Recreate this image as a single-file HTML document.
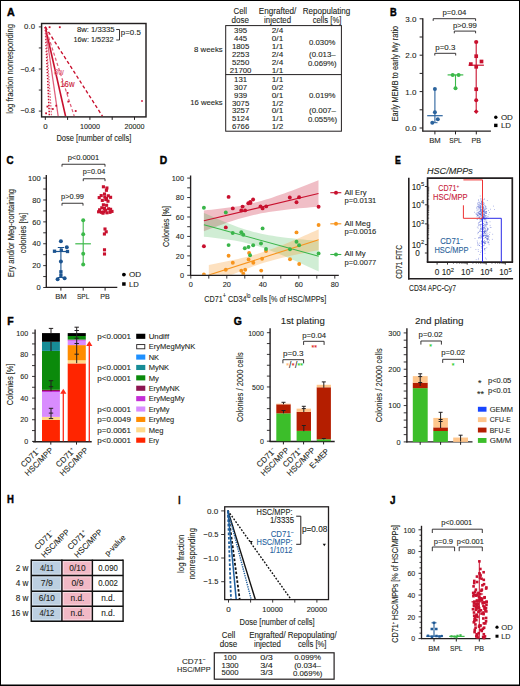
<!DOCTYPE html>
<html><head><meta charset="utf-8"><title>Figure</title>
<style>
html,body{margin:0;padding:0;background:#fff;}
body{width:520px;height:686px;overflow:hidden;}
svg{display:block;font-family:"Liberation Sans", sans-serif;}
</style></head><body>
<svg width="520" height="686" viewBox="0 0 520 686" fill="#231f20"><rect x="0.50" y="0.50" width="519.00" height="685.00" fill="none" stroke="#000" stroke-width="1"/>
<line x1="0.00" y1="685.20" x2="520.00" y2="685.20" stroke="#000" stroke-width="1.6"/>
<text x="6.90" y="15.70" font-size="11.3" font-weight="bold" fill="#000" stroke="#000" stroke-width="0.45" textLength="7.70" lengthAdjust="spacingAndGlyphs">A</text>
<rect x="41.60" y="23.50" width="104.40" height="93.40" fill="none" stroke="#231f20" stroke-width="1.45"/>
<line x1="38.80" y1="26.90" x2="41.50" y2="26.90" stroke="#231f20" stroke-width="0.9"/>
<line x1="38.80" y1="47.95" x2="41.50" y2="47.95" stroke="#231f20" stroke-width="0.9"/>
<line x1="38.80" y1="69.00" x2="41.50" y2="69.00" stroke="#231f20" stroke-width="0.9"/>
<line x1="38.80" y1="90.05" x2="41.50" y2="90.05" stroke="#231f20" stroke-width="0.9"/>
<line x1="38.80" y1="111.10" x2="41.50" y2="111.10" stroke="#231f20" stroke-width="0.9"/>
<text x="35.00" y="29.20" font-size="7.7" text-anchor="end" textLength="10.90" lengthAdjust="spacingAndGlyphs" stroke="#231f20" stroke-width="0.1">0.0</text>
<text x="35.00" y="71.80" font-size="7.7" text-anchor="end" textLength="14.60" lengthAdjust="spacingAndGlyphs" stroke="#231f20" stroke-width="0.1">−0.4</text>
<text x="35.00" y="113.40" font-size="7.7" text-anchor="end" textLength="14.60" lengthAdjust="spacingAndGlyphs" stroke="#231f20" stroke-width="0.1">−0.8</text>
<line x1="45.30" y1="116.90" x2="45.30" y2="119.90" stroke="#231f20" stroke-width="1.0"/>
<line x1="67.60" y1="116.90" x2="67.60" y2="119.90" stroke="#231f20" stroke-width="1.0"/>
<line x1="89.90" y1="116.90" x2="89.90" y2="119.90" stroke="#231f20" stroke-width="1.0"/>
<line x1="112.20" y1="116.90" x2="112.20" y2="119.90" stroke="#231f20" stroke-width="1.0"/>
<line x1="134.50" y1="116.90" x2="134.50" y2="119.90" stroke="#231f20" stroke-width="1.0"/>
<text x="45.50" y="128.70" font-size="7.9" text-anchor="middle" stroke="#231f20" stroke-width="0.1">0</text>
<text x="89.90" y="128.70" font-size="7.9" text-anchor="middle" textLength="20.00" lengthAdjust="spacingAndGlyphs" stroke="#231f20" stroke-width="0.1">10000</text>
<text x="134.40" y="128.70" font-size="7.9" text-anchor="middle" textLength="20.00" lengthAdjust="spacingAndGlyphs" stroke="#231f20" stroke-width="0.1">20000</text>
<text x="56.40" y="140.50" font-size="9" textLength="74.90" lengthAdjust="spacingAndGlyphs" stroke="#231f20" stroke-width="0.1">Dose [number of cells]</text>
<text x="12.90" y="113.80" font-size="9" textLength="89.80" lengthAdjust="spacingAndGlyphs" transform="rotate(-90 12.90 113.80)" stroke="#231f20" stroke-width="0.1">log fraction nonresponding</text>
<text x="114.60" y="32.00" font-size="7.2" text-anchor="end" textLength="37.70" lengthAdjust="spacingAndGlyphs" stroke="#231f20" stroke-width="0.1">8w: 1/3335</text>
<text x="113.50" y="41.50" font-size="7.2" text-anchor="end" textLength="40.10" lengthAdjust="spacingAndGlyphs" stroke="#231f20" stroke-width="0.1">16w: 1/5232</text>
<polyline points="116.20,29.50 119.50,29.50 119.50,40.00 116.20,40.00" fill="none" stroke="#231f20" stroke-width="0.9"/>
<text x="120.80" y="34.90" font-size="7.2" textLength="20.00" lengthAdjust="spacingAndGlyphs" stroke="#231f20" stroke-width="0.1">p=0.5</text>
<clipPath id="ca"><rect x="42" y="24" width="104" height="92.2"/></clipPath><g clip-path="url(#ca)">
<line x1="45.30" y1="26.90" x2="49.40" y2="116.40" stroke="#c8102e" stroke-width="1.6" stroke-dasharray="1.4 1.6"/>
<line x1="45.30" y1="26.90" x2="51.60" y2="116.40" stroke="#e0607c" stroke-width="1.2" stroke-dasharray="1.6 1.3"/>
<line x1="45.30" y1="26.90" x2="58.20" y2="116.40" stroke="#e0607c" stroke-width="1.25"/>
<line x1="45.30" y1="26.90" x2="65.60" y2="116.40" stroke="#c8102e" stroke-width="1.65"/>
<line x1="45.30" y1="26.90" x2="74.30" y2="116.40" stroke="#e0607c" stroke-width="1.25" stroke-dasharray="3.2 2.2"/>
<line x1="45.30" y1="26.90" x2="102.60" y2="116.40" stroke="#c8102e" stroke-width="1.35" stroke-dasharray="3.4 2.4"/>
<rect x="48.70" y="26.30" width="1.8" height="1.8" fill="#c8102e"/>
<rect x="58.90" y="26.30" width="1.8" height="1.8" fill="#c8102e"/>
<rect x="45.20" y="112.40" width="1.8" height="1.8" fill="#c8102e"/>
<rect x="46.50" y="105.70" width="1.8" height="1.8" fill="#c8102e"/>
<rect x="51.90" y="108.10" width="1.8" height="1.8" fill="#c8102e"/>
<rect x="55.30" y="104.80" width="1.8" height="1.8" fill="#c8102e"/>
<rect x="67.40" y="100.70" width="1.8" height="1.8" fill="#c8102e"/>
<rect x="66.70" y="92.00" width="1.8" height="1.8" fill="#c8102e"/>
<rect x="74.80" y="110.10" width="1.8" height="1.8" fill="#c8102e"/>
<rect x="141.00" y="100.00" width="2.0" height="2.0" fill="#e0607c"/>
</g>
<text x="53.90" y="75.00" font-size="9" fill="#e0607c" textLength="9.80" lengthAdjust="spacingAndGlyphs" stroke="#e0607c" stroke-width="0.1">8w</text>
<text x="60.30" y="87.40" font-size="9" fill="#c8102e" textLength="14.20" lengthAdjust="spacingAndGlyphs" stroke="#c8102e" stroke-width="0.1">16w</text>
<rect x="225.70" y="25.60" width="115.70" height="105.60" fill="none" stroke="#231f20" stroke-width="1"/>
<line x1="225.70" y1="74.60" x2="341.40" y2="74.60" stroke="#231f20" stroke-width="1"/>
<text x="240.30" y="13.60" font-size="8.3" text-anchor="middle" textLength="13.50" lengthAdjust="spacingAndGlyphs" stroke="#231f20" stroke-width="0.1">Cell</text>
<text x="240.30" y="22.60" font-size="8.3" text-anchor="middle" textLength="17.50" lengthAdjust="spacingAndGlyphs" stroke="#231f20" stroke-width="0.1">dose</text>
<text x="277.60" y="13.60" font-size="8.3" text-anchor="middle" textLength="37.50" lengthAdjust="spacingAndGlyphs" stroke="#231f20" stroke-width="0.1">Engrafted/</text>
<text x="277.60" y="22.60" font-size="8.3" text-anchor="middle" textLength="27.00" lengthAdjust="spacingAndGlyphs" stroke="#231f20" stroke-width="0.1">injected</text>
<text x="326.50" y="13.60" font-size="8.3" text-anchor="middle" textLength="47.70" lengthAdjust="spacingAndGlyphs" stroke="#231f20" stroke-width="0.1">Repopulating</text>
<text x="327.10" y="22.60" font-size="8.3" text-anchor="middle" textLength="28.80" lengthAdjust="spacingAndGlyphs" stroke="#231f20" stroke-width="0.1">cells [%]</text>
<text x="240.60" y="33.10" font-size="8.0" text-anchor="middle" textLength="13.05" lengthAdjust="spacingAndGlyphs" stroke="#231f20" stroke-width="0.1">395</text>
<text x="277.50" y="33.10" font-size="8.0" text-anchor="middle" textLength="11.40" lengthAdjust="spacingAndGlyphs" stroke="#231f20" stroke-width="0.1">2/4</text>
<text x="240.60" y="40.98" font-size="8.0" text-anchor="middle" textLength="13.05" lengthAdjust="spacingAndGlyphs" stroke="#231f20" stroke-width="0.1">445</text>
<text x="277.50" y="40.98" font-size="8.0" text-anchor="middle" textLength="11.40" lengthAdjust="spacingAndGlyphs" stroke="#231f20" stroke-width="0.1">0/1</text>
<text x="240.60" y="48.86" font-size="8.0" text-anchor="middle" textLength="17.40" lengthAdjust="spacingAndGlyphs" stroke="#231f20" stroke-width="0.1">1805</text>
<text x="277.50" y="48.86" font-size="8.0" text-anchor="middle" textLength="11.40" lengthAdjust="spacingAndGlyphs" stroke="#231f20" stroke-width="0.1">1/1</text>
<text x="240.60" y="56.74" font-size="8.0" text-anchor="middle" textLength="17.40" lengthAdjust="spacingAndGlyphs" stroke="#231f20" stroke-width="0.1">2253</text>
<text x="277.50" y="56.74" font-size="8.0" text-anchor="middle" textLength="11.40" lengthAdjust="spacingAndGlyphs" stroke="#231f20" stroke-width="0.1">2/4</text>
<text x="240.60" y="64.62" font-size="8.0" text-anchor="middle" textLength="17.40" lengthAdjust="spacingAndGlyphs" stroke="#231f20" stroke-width="0.1">5250</text>
<text x="277.50" y="64.62" font-size="8.0" text-anchor="middle" textLength="11.40" lengthAdjust="spacingAndGlyphs" stroke="#231f20" stroke-width="0.1">2/4</text>
<text x="240.60" y="72.50" font-size="8.0" text-anchor="middle" textLength="21.75" lengthAdjust="spacingAndGlyphs" stroke="#231f20" stroke-width="0.1">21700</text>
<text x="277.50" y="72.50" font-size="8.0" text-anchor="middle" textLength="11.40" lengthAdjust="spacingAndGlyphs" stroke="#231f20" stroke-width="0.1">1/1</text>
<text x="240.60" y="81.80" font-size="8.0" text-anchor="middle" textLength="13.05" lengthAdjust="spacingAndGlyphs" stroke="#231f20" stroke-width="0.1">131</text>
<text x="277.50" y="81.80" font-size="8.0" text-anchor="middle" textLength="11.40" lengthAdjust="spacingAndGlyphs" stroke="#231f20" stroke-width="0.1">1/1</text>
<text x="240.60" y="89.70" font-size="8.0" text-anchor="middle" textLength="13.05" lengthAdjust="spacingAndGlyphs" stroke="#231f20" stroke-width="0.1">307</text>
<text x="277.50" y="89.70" font-size="8.0" text-anchor="middle" textLength="11.40" lengthAdjust="spacingAndGlyphs" stroke="#231f20" stroke-width="0.1">0/2</text>
<text x="240.60" y="97.60" font-size="8.0" text-anchor="middle" textLength="13.05" lengthAdjust="spacingAndGlyphs" stroke="#231f20" stroke-width="0.1">939</text>
<text x="277.50" y="97.60" font-size="8.0" text-anchor="middle" textLength="11.40" lengthAdjust="spacingAndGlyphs" stroke="#231f20" stroke-width="0.1">0/1</text>
<text x="240.60" y="105.50" font-size="8.0" text-anchor="middle" textLength="17.40" lengthAdjust="spacingAndGlyphs" stroke="#231f20" stroke-width="0.1">3075</text>
<text x="277.50" y="105.50" font-size="8.0" text-anchor="middle" textLength="11.40" lengthAdjust="spacingAndGlyphs" stroke="#231f20" stroke-width="0.1">1/2</text>
<text x="240.60" y="113.40" font-size="8.0" text-anchor="middle" textLength="17.40" lengthAdjust="spacingAndGlyphs" stroke="#231f20" stroke-width="0.1">3257</text>
<text x="277.50" y="113.40" font-size="8.0" text-anchor="middle" textLength="11.40" lengthAdjust="spacingAndGlyphs" stroke="#231f20" stroke-width="0.1">0/1</text>
<text x="240.60" y="121.30" font-size="8.0" text-anchor="middle" textLength="17.40" lengthAdjust="spacingAndGlyphs" stroke="#231f20" stroke-width="0.1">5124</text>
<text x="277.50" y="121.30" font-size="8.0" text-anchor="middle" textLength="11.40" lengthAdjust="spacingAndGlyphs" stroke="#231f20" stroke-width="0.1">1/1</text>
<text x="240.60" y="129.20" font-size="8.0" text-anchor="middle" textLength="17.40" lengthAdjust="spacingAndGlyphs" stroke="#231f20" stroke-width="0.1">6766</text>
<text x="277.50" y="129.20" font-size="8.0" text-anchor="middle" textLength="11.40" lengthAdjust="spacingAndGlyphs" stroke="#231f20" stroke-width="0.1">1/2</text>
<text x="322.20" y="44.60" font-size="8.0" text-anchor="middle" textLength="26.30" lengthAdjust="spacingAndGlyphs" stroke="#231f20" stroke-width="0.1">0.030%</text>
<text x="322.40" y="57.30" font-size="8.0" text-anchor="middle" textLength="26.60" lengthAdjust="spacingAndGlyphs" stroke="#231f20" stroke-width="0.1">(0.013–</text>
<text x="322.30" y="66.20" font-size="8.0" text-anchor="middle" textLength="28.80" lengthAdjust="spacingAndGlyphs" stroke="#231f20" stroke-width="0.1">0.069%)</text>
<text x="322.30" y="97.70" font-size="8.0" text-anchor="middle" textLength="26.60" lengthAdjust="spacingAndGlyphs" stroke="#231f20" stroke-width="0.1">0.019%</text>
<text x="322.50" y="112.50" font-size="8.0" text-anchor="middle" textLength="26.90" lengthAdjust="spacingAndGlyphs" stroke="#231f20" stroke-width="0.1">(0.007–</text>
<text x="322.50" y="121.70" font-size="8.0" text-anchor="middle" textLength="29.20" lengthAdjust="spacingAndGlyphs" stroke="#231f20" stroke-width="0.1">0.055%)</text>
<text x="222.70" y="52.00" font-size="8.0" text-anchor="end" textLength="28.60" lengthAdjust="spacingAndGlyphs" stroke="#231f20" stroke-width="0.1">8 weeks</text>
<text x="222.70" y="105.10" font-size="8.0" text-anchor="end" textLength="32.50" lengthAdjust="spacingAndGlyphs" stroke="#231f20" stroke-width="0.1">16 weeks</text>
<text x="390.00" y="15.70" font-size="11.3" font-weight="bold" fill="#000" stroke="#000" stroke-width="0.45" textLength="6.70" lengthAdjust="spacingAndGlyphs">B</text>
<line x1="422.80" y1="18.30" x2="422.80" y2="131.60" stroke="#231f20" stroke-width="1.35"/>
<line x1="422.30" y1="131.10" x2="490.90" y2="131.10" stroke="#231f20" stroke-width="1.35"/>
<line x1="419.60" y1="128.00" x2="422.80" y2="128.00" stroke="#231f20" stroke-width="1"/>
<line x1="419.60" y1="109.80" x2="422.80" y2="109.80" stroke="#231f20" stroke-width="1"/>
<line x1="419.60" y1="91.60" x2="422.80" y2="91.60" stroke="#231f20" stroke-width="1"/>
<line x1="419.60" y1="73.40" x2="422.80" y2="73.40" stroke="#231f20" stroke-width="1"/>
<line x1="419.60" y1="55.20" x2="422.80" y2="55.20" stroke="#231f20" stroke-width="1"/>
<line x1="419.60" y1="37.00" x2="422.80" y2="37.00" stroke="#231f20" stroke-width="1"/>
<line x1="419.60" y1="18.80" x2="422.80" y2="18.80" stroke="#231f20" stroke-width="1"/>
<text x="416.40" y="21.70" font-size="8" text-anchor="end" textLength="11.20" lengthAdjust="spacingAndGlyphs" stroke="#231f20" stroke-width="0.1">3.0</text>
<text x="416.40" y="58.10" font-size="8" text-anchor="end" textLength="11.20" lengthAdjust="spacingAndGlyphs" stroke="#231f20" stroke-width="0.1">2.0</text>
<text x="416.40" y="94.50" font-size="8" text-anchor="end" textLength="11.20" lengthAdjust="spacingAndGlyphs" stroke="#231f20" stroke-width="0.1">1.0</text>
<text x="416.40" y="130.90" font-size="8" text-anchor="end" textLength="11.20" lengthAdjust="spacingAndGlyphs" stroke="#231f20" stroke-width="0.1">0.0</text>
<line x1="434.90" y1="131.10" x2="434.90" y2="134.40" stroke="#231f20" stroke-width="1"/>
<text x="434.90" y="143.40" font-size="8" text-anchor="middle" textLength="11.50" lengthAdjust="spacingAndGlyphs" stroke="#231f20" stroke-width="0.1">BM</text>
<line x1="455.50" y1="131.10" x2="455.50" y2="134.40" stroke="#231f20" stroke-width="1"/>
<text x="455.50" y="143.40" font-size="8" text-anchor="middle" textLength="12.50" lengthAdjust="spacingAndGlyphs" stroke="#231f20" stroke-width="0.1">SPL</text>
<line x1="476.30" y1="131.10" x2="476.30" y2="134.40" stroke="#231f20" stroke-width="1"/>
<text x="476.30" y="143.40" font-size="8" text-anchor="middle" textLength="9.50" lengthAdjust="spacingAndGlyphs" stroke="#231f20" stroke-width="0.1">PB</text>
<text x="397.60" y="121.30" font-size="9" textLength="95.50" lengthAdjust="spacingAndGlyphs" transform="rotate(-90 397.60 121.30)" stroke="#231f20" stroke-width="0.1">Early MEMB to early My ratio</text>
<polyline points="433.20,20.90 433.20,18.70 475.60,18.70 475.60,20.90" fill="none" stroke="#231f20" stroke-width="0.9"/>
<text x="454.40" y="14.70" font-size="8.1" text-anchor="middle" textLength="24.00" lengthAdjust="spacingAndGlyphs" stroke="#231f20" stroke-width="0.1">p=0.04</text>
<polyline points="454.30,33.30 454.30,31.10 475.60,31.10 475.60,33.30" fill="none" stroke="#231f20" stroke-width="0.9"/>
<text x="464.90" y="27.50" font-size="8.1" text-anchor="middle" textLength="24.00" lengthAdjust="spacingAndGlyphs" stroke="#231f20" stroke-width="0.1">p>0.99</text>
<polyline points="434.80,55.50 434.80,53.30 455.70,53.30 455.70,55.50" fill="none" stroke="#231f20" stroke-width="0.9"/>
<text x="445.30" y="50.00" font-size="8.1" text-anchor="middle" textLength="20.00" lengthAdjust="spacingAndGlyphs" stroke="#231f20" stroke-width="0.1">p=0.3</text>
<line x1="434.90" y1="89.00" x2="434.90" y2="122.70" stroke="#2b639d" stroke-width="1.1"/>
<line x1="427.20" y1="115.70" x2="442.70" y2="115.70" stroke="#2b639d" stroke-width="1.2"/>
<line x1="432.30" y1="122.70" x2="437.50" y2="122.70" stroke="#2b639d" stroke-width="1"/>
<circle cx="434.90" cy="89.00" r="2.0" fill="#2b639d"/>
<circle cx="434.90" cy="112.30" r="2.0" fill="#2b639d"/>
<circle cx="437.80" cy="119.30" r="2.0" fill="#2b639d"/>
<circle cx="432.30" cy="122.70" r="2.0" fill="#2b639d"/>
<line x1="455.50" y1="74.90" x2="455.50" y2="88.30" stroke="#3cb94a" stroke-width="1.1"/>
<line x1="447.60" y1="74.90" x2="463.30" y2="74.90" stroke="#3cb94a" stroke-width="1.2"/>
<circle cx="452.70" cy="74.90" r="2.0" fill="#3cb94a"/>
<circle cx="458.60" cy="74.90" r="2.0" fill="#3cb94a"/>
<circle cx="455.50" cy="88.30" r="2.0" fill="#3cb94a"/>
<line x1="476.20" y1="42.00" x2="476.20" y2="111.60" stroke="#c8102e" stroke-width="1.1"/>
<line x1="468.50" y1="65.20" x2="483.90" y2="65.20" stroke="#c8102e" stroke-width="1.2"/>
<circle cx="476.20" cy="42.00" r="2.1" fill="#c8102e"/>
<rect x="474.35" y="54.35" width="3.7" height="3.7" fill="#c8102e"/>
<rect x="468.95" y="62.25" width="3.7" height="3.7" fill="#c8102e"/>
<rect x="479.65" y="59.65" width="3.7" height="3.7" fill="#c8102e"/>
<rect x="474.35" y="64.95" width="3.7" height="3.7" fill="#c8102e"/>
<rect x="474.35" y="87.35" width="3.7" height="3.7" fill="#c8102e"/>
<circle cx="476.20" cy="100.20" r="2.0" fill="#c8102e"/>
<polygon points="476.20,109.20 478.60,111.60 476.20,114.00 473.80,111.60" fill="#c8102e"/>
<circle cx="495.80" cy="117.30" r="1.7" fill="#000"/>
<rect x="494.10" y="123.70" width="3.4" height="3.4" fill="#000"/>
<text x="500.90" y="119.60" font-size="8" textLength="12.00" lengthAdjust="spacingAndGlyphs" stroke="#231f20" stroke-width="0.1">OD</text>
<text x="500.90" y="128.00" font-size="8" textLength="10.00" lengthAdjust="spacingAndGlyphs" stroke="#231f20" stroke-width="0.1">LD</text>
<text x="6.45" y="163.70" font-size="11.3" font-weight="bold" fill="#000" stroke="#000" stroke-width="0.45" textLength="7.10" lengthAdjust="spacingAndGlyphs">C</text>
<line x1="46.30" y1="175.00" x2="46.30" y2="287.90" stroke="#231f20" stroke-width="1.35"/>
<line x1="45.80" y1="287.40" x2="117.30" y2="287.40" stroke="#231f20" stroke-width="1.35"/>
<line x1="43.20" y1="287.50" x2="46.30" y2="287.50" stroke="#231f20" stroke-width="0.9"/>
<line x1="43.20" y1="276.56" x2="46.30" y2="276.56" stroke="#231f20" stroke-width="0.9"/>
<line x1="43.20" y1="265.62" x2="46.30" y2="265.62" stroke="#231f20" stroke-width="0.9"/>
<line x1="43.20" y1="254.68" x2="46.30" y2="254.68" stroke="#231f20" stroke-width="0.9"/>
<line x1="43.20" y1="243.74" x2="46.30" y2="243.74" stroke="#231f20" stroke-width="0.9"/>
<line x1="43.20" y1="232.80" x2="46.30" y2="232.80" stroke="#231f20" stroke-width="0.9"/>
<line x1="43.20" y1="221.86" x2="46.30" y2="221.86" stroke="#231f20" stroke-width="0.9"/>
<line x1="43.20" y1="210.92" x2="46.30" y2="210.92" stroke="#231f20" stroke-width="0.9"/>
<line x1="43.20" y1="199.98" x2="46.30" y2="199.98" stroke="#231f20" stroke-width="0.9"/>
<line x1="43.20" y1="189.04" x2="46.30" y2="189.04" stroke="#231f20" stroke-width="0.9"/>
<line x1="43.20" y1="178.10" x2="46.30" y2="178.10" stroke="#231f20" stroke-width="0.9"/>
<text x="40.70" y="180.80" font-size="8.1" text-anchor="end" textLength="12.60" lengthAdjust="spacingAndGlyphs" stroke="#231f20" stroke-width="0.1">100</text>
<text x="40.70" y="202.68" font-size="8.1" text-anchor="end" textLength="8.40" lengthAdjust="spacingAndGlyphs" stroke="#231f20" stroke-width="0.1">80</text>
<text x="40.70" y="224.56" font-size="8.1" text-anchor="end" textLength="8.40" lengthAdjust="spacingAndGlyphs" stroke="#231f20" stroke-width="0.1">60</text>
<text x="40.70" y="246.44" font-size="8.1" text-anchor="end" textLength="8.40" lengthAdjust="spacingAndGlyphs" stroke="#231f20" stroke-width="0.1">40</text>
<text x="40.70" y="268.32" font-size="8.1" text-anchor="end" textLength="8.40" lengthAdjust="spacingAndGlyphs" stroke="#231f20" stroke-width="0.1">20</text>
<text x="40.70" y="290.20" font-size="8.1" text-anchor="end" textLength="4.20" lengthAdjust="spacingAndGlyphs" stroke="#231f20" stroke-width="0.1">0</text>
<line x1="60.90" y1="287.40" x2="60.90" y2="290.60" stroke="#231f20" stroke-width="1"/>
<text x="60.90" y="298.60" font-size="8" text-anchor="middle" textLength="11.50" lengthAdjust="spacingAndGlyphs" stroke="#231f20" stroke-width="0.1">BM</text>
<line x1="83.20" y1="287.40" x2="83.20" y2="290.60" stroke="#231f20" stroke-width="1"/>
<text x="83.20" y="298.60" font-size="8" text-anchor="middle" textLength="12.50" lengthAdjust="spacingAndGlyphs" stroke="#231f20" stroke-width="0.1">SPL</text>
<line x1="105.10" y1="287.40" x2="105.10" y2="290.60" stroke="#231f20" stroke-width="1"/>
<text x="105.10" y="298.60" font-size="8" text-anchor="middle" textLength="9.50" lengthAdjust="spacingAndGlyphs" stroke="#231f20" stroke-width="0.1">PB</text>
<text x="14.30" y="277.00" font-size="9" textLength="88.00" lengthAdjust="spacingAndGlyphs" transform="rotate(-90 14.30 277.00)" stroke="#231f20" stroke-width="0.1">Ery and/or Meg-containing</text>
<text x="26.00" y="253.30" font-size="9" textLength="40.70" lengthAdjust="spacingAndGlyphs" transform="rotate(-90 26.00 253.30)" stroke="#231f20" stroke-width="0.1">colonies [%]</text>
<polyline points="62.00,166.65 62.00,164.25 105.00,164.25 105.00,166.65" fill="none" stroke="#231f20" stroke-width="0.9"/>
<text x="83.40" y="159.80" font-size="8.1" text-anchor="middle" textLength="31.50" lengthAdjust="spacingAndGlyphs" stroke="#231f20" stroke-width="0.1">p&lt;0.0001</text>
<polyline points="83.25,181.15 83.25,178.75 105.00,178.75 105.00,181.15" fill="none" stroke="#231f20" stroke-width="0.9"/>
<text x="94.00" y="173.75" font-size="7.8" text-anchor="middle" textLength="22.50" lengthAdjust="spacingAndGlyphs" stroke="#231f20" stroke-width="0.1">p=0.04</text>
<polyline points="62.00,205.65 62.00,203.25 83.00,203.25 83.00,205.65" fill="none" stroke="#231f20" stroke-width="0.9"/>
<text x="72.50" y="199.25" font-size="7.8" text-anchor="middle" textLength="23.00" lengthAdjust="spacingAndGlyphs" stroke="#231f20" stroke-width="0.1">p&gt;0.99</text>
<line x1="60.90" y1="247.50" x2="60.90" y2="277.50" stroke="#1c5490" stroke-width="1.1"/>
<line x1="53.00" y1="251.50" x2="68.50" y2="251.50" stroke="#1c5490" stroke-width="1.2"/>
<line x1="57.80" y1="247.50" x2="64.00" y2="247.50" stroke="#1c5490" stroke-width="1"/>
<line x1="57.80" y1="277.50" x2="64.00" y2="277.50" stroke="#1c5490" stroke-width="1"/>
<circle cx="60.90" cy="241.30" r="2.0" fill="#1c5490"/>
<circle cx="66.80" cy="247.20" r="2.0" fill="#1c5490"/>
<circle cx="60.90" cy="261.50" r="2.0" fill="#1c5490"/>
<circle cx="57.60" cy="279.30" r="2.0" fill="#1c5490"/>
<circle cx="64.60" cy="278.30" r="2.0" fill="#1c5490"/>
<rect x="52.85" y="249.55" width="3.3" height="3.3" fill="#1c5490"/>
<rect x="65.85" y="249.85" width="3.3" height="3.3" fill="#1c5490"/>
<rect x="59.25" y="270.15" width="3.3" height="3.3" fill="#1c5490"/>
<rect x="59.25" y="273.65" width="3.3" height="3.3" fill="#1c5490"/>
<rect x="59.65" y="248.55" width="3.3" height="3.3" fill="#1c5490"/>
<circle cx="123.90" cy="274.60" r="1.9" fill="#000"/>
<rect x="122.15" y="282.25" width="3.5" height="3.5" fill="#000"/>
<text x="129.00" y="277.20" font-size="8" textLength="12.20" lengthAdjust="spacingAndGlyphs" stroke="#231f20" stroke-width="0.1">OD</text>
<text x="129.00" y="286.50" font-size="8" textLength="9.80" lengthAdjust="spacingAndGlyphs" stroke="#231f20" stroke-width="0.1">LD</text>
<line x1="83.20" y1="220.20" x2="83.20" y2="264.40" stroke="#3cb94a" stroke-width="1.1"/>
<line x1="75.30" y1="243.80" x2="90.90" y2="243.80" stroke="#3cb94a" stroke-width="1.2"/>
<circle cx="83.20" cy="220.20" r="2.0" fill="#3cb94a"/>
<circle cx="83.20" cy="234.20" r="2.0" fill="#3cb94a"/>
<circle cx="83.20" cy="253.70" r="2.0" fill="#3cb94a"/>
<circle cx="83.20" cy="264.40" r="2.0" fill="#3cb94a"/>
<rect x="101.85" y="185.25" width="3.1" height="3.1" fill="#c8102e"/>
<rect x="105.35" y="186.45" width="3.1" height="3.1" fill="#c8102e"/>
<rect x="104.85" y="188.75" width="3.1" height="3.1" fill="#c8102e"/>
<rect x="102.95" y="192.45" width="3.1" height="3.1" fill="#c8102e"/>
<rect x="99.65" y="194.05" width="3.1" height="3.1" fill="#c8102e"/>
<rect x="97.65" y="196.05" width="3.1" height="3.1" fill="#c8102e"/>
<rect x="103.25" y="195.45" width="3.1" height="3.1" fill="#c8102e"/>
<rect x="106.75" y="194.25" width="3.1" height="3.1" fill="#c8102e"/>
<rect x="109.05" y="195.75" width="3.1" height="3.1" fill="#c8102e"/>
<rect x="104.25" y="198.05" width="3.1" height="3.1" fill="#c8102e"/>
<rect x="100.75" y="198.85" width="3.1" height="3.1" fill="#c8102e"/>
<rect x="106.45" y="199.65" width="3.1" height="3.1" fill="#c8102e"/>
<rect x="101.85" y="203.25" width="3.1" height="3.1" fill="#c8102e"/>
<rect x="105.05" y="203.75" width="3.1" height="3.1" fill="#c8102e"/>
<rect x="100.25" y="206.25" width="3.1" height="3.1" fill="#c8102e"/>
<rect x="102.95" y="206.85" width="3.1" height="3.1" fill="#c8102e"/>
<rect x="107.05" y="207.25" width="3.1" height="3.1" fill="#c8102e"/>
<rect x="97.05" y="210.25" width="3.1" height="3.1" fill="#c8102e"/>
<rect x="99.95" y="210.75" width="3.1" height="3.1" fill="#c8102e"/>
<rect x="102.45" y="210.25" width="3.1" height="3.1" fill="#c8102e"/>
<rect x="105.45" y="211.25" width="3.1" height="3.1" fill="#c8102e"/>
<rect x="108.45" y="210.75" width="3.1" height="3.1" fill="#c8102e"/>
<rect x="110.45" y="209.85" width="3.1" height="3.1" fill="#c8102e"/>
<rect x="103.95" y="208.75" width="3.1" height="3.1" fill="#c8102e"/>
<rect x="98.05" y="208.25" width="3.1" height="3.1" fill="#c8102e"/>
<rect x="109.05" y="207.75" width="3.1" height="3.1" fill="#c8102e"/>
<rect x="101.45" y="211.65" width="3.1" height="3.1" fill="#c8102e"/>
<rect x="104.95" y="196.95" width="3.1" height="3.1" fill="#c8102e"/>
<rect x="103.45" y="227.45" width="3.1" height="3.1" fill="#c8102e"/>
<rect x="104.65" y="230.25" width="3.1" height="3.1" fill="#c8102e"/>
<rect x="102.85" y="232.45" width="3.1" height="3.1" fill="#c8102e"/>
<rect x="102.95" y="248.25" width="3.1" height="3.1" fill="#c8102e"/>
<rect x="102.95" y="252.45" width="3.1" height="3.1" fill="#c8102e"/>
<text x="159.70" y="164.20" font-size="11.3" font-weight="bold" fill="#000" stroke="#000" stroke-width="0.45" textLength="7.40" lengthAdjust="spacingAndGlyphs">D</text>
<clipPath id="cd"><rect x="191.3" y="170" width="150" height="104.8"/></clipPath><g clip-path="url(#cd)">
<polygon points="203.90,210.40 207.72,210.03 211.54,209.65 215.36,209.24 219.18,208.82 223.00,208.36 226.82,207.87 230.64,207.34 234.46,206.77 238.28,206.14 242.10,205.45 245.92,204.69 249.74,203.87 253.56,202.96 257.38,201.99 261.20,200.93 265.02,199.81 268.84,198.63 272.66,197.40 276.48,196.11 280.30,194.79 284.12,193.43 287.94,192.04 291.76,190.63 295.58,189.20 299.40,187.75 303.22,186.28 307.04,184.81 310.86,183.32 314.68,181.82 318.50,180.31 318.50,206.69 314.68,207.00 310.86,207.32 307.04,207.65 303.22,208.00 299.40,208.35 295.58,208.72 291.76,209.11 287.94,209.52 284.12,209.95 280.30,210.41 276.48,210.91 272.66,211.44 268.84,212.03 265.02,212.67 261.20,213.37 257.38,214.13 253.56,214.98 249.74,215.89 245.92,216.89 242.10,217.95 238.28,219.08 234.46,220.27 230.64,221.52 226.82,222.81 223.00,224.14 219.18,225.50 215.36,226.90 211.54,228.31 207.72,229.75 203.90,231.20" fill="#c8102e" fill-opacity="0.27"/>
<polygon points="203.90,212.89 207.73,214.60 211.55,216.28 215.38,217.94 219.21,219.58 223.03,221.18 226.86,222.75 230.69,224.27 234.51,225.73 238.34,227.13 242.17,228.45 245.99,229.70 249.82,230.84 253.65,231.90 257.47,232.85 261.30,233.72 265.13,234.50 268.95,235.20 272.78,235.84 276.61,236.42 280.43,236.96 284.26,237.45 288.09,237.91 291.91,238.35 295.74,238.76 299.57,239.15 303.39,239.53 307.22,239.89 311.05,240.24 314.87,240.59 318.70,240.92 318.70,271.48 314.87,269.72 311.05,267.97 307.22,266.23 303.39,264.50 299.57,262.78 295.74,261.08 291.91,259.40 288.09,257.74 284.26,256.11 280.43,254.51 276.61,252.95 272.78,251.44 268.95,249.98 265.13,248.59 261.30,247.28 257.47,246.05 253.65,244.92 249.82,243.88 245.99,242.93 242.17,242.08 238.34,241.31 234.51,240.62 230.69,239.99 226.86,239.41 223.03,238.88 219.21,238.39 215.38,237.94 211.55,237.50 207.73,237.10 203.90,236.71" fill="#3ab54a" fill-opacity="0.24"/>
<polygon points="208.80,265.01 212.46,264.30 216.13,263.59 219.79,262.86 223.45,262.12 227.12,261.36 230.78,260.58 234.44,259.77 238.11,258.93 241.77,258.06 245.43,257.15 249.10,256.20 252.76,255.19 256.42,254.13 260.09,253.02 263.75,251.84 267.41,250.61 271.08,249.32 274.74,247.97 278.40,246.57 282.07,245.13 285.73,243.65 289.39,242.13 293.06,240.59 296.72,239.02 300.38,237.43 304.05,235.82 307.71,234.19 311.37,232.56 315.04,230.90 318.70,229.24 318.70,250.16 315.04,250.85 311.37,251.55 307.71,252.27 304.05,252.99 300.38,253.74 296.72,254.50 293.06,255.28 289.39,256.09 285.73,256.93 282.07,257.80 278.40,258.72 274.74,259.67 271.08,260.68 267.41,261.74 263.75,262.86 260.09,264.03 256.42,265.27 252.76,266.57 249.10,267.92 245.43,269.32 241.77,270.76 238.11,272.24 234.44,273.76 230.78,275.30 227.12,276.87 223.45,278.47 219.79,280.08 216.13,281.70 212.46,283.34 208.80,284.99" fill="#f7941d" fill-opacity="0.28"/>
<line x1="203.90" y1="220.80" x2="318.50" y2="193.50" stroke="#c8102e" stroke-width="1.1"/>
<line x1="203.90" y1="224.80" x2="318.70" y2="256.20" stroke="#3ab54a" stroke-width="1.1"/>
<line x1="208.80" y1="275.00" x2="318.70" y2="239.70" stroke="#f7941d" stroke-width="1.1"/>
<circle cx="296.50" cy="232.40" r="1.95" fill="#f7941d"/>
<circle cx="318.60" cy="225.00" r="1.95" fill="#f7941d"/>
<circle cx="228.60" cy="255.70" r="1.95" fill="#f7941d"/>
<circle cx="232.80" cy="262.80" r="1.95" fill="#f7941d"/>
<circle cx="225.80" cy="269.70" r="1.95" fill="#f7941d"/>
<circle cx="241.30" cy="270.70" r="1.95" fill="#f7941d"/>
<circle cx="245.20" cy="269.70" r="1.95" fill="#f7941d"/>
<circle cx="243.30" cy="273.60" r="1.95" fill="#f7941d"/>
<circle cx="203.90" cy="274.50" r="1.95" fill="#f7941d"/>
<circle cx="249.10" cy="252.90" r="1.95" fill="#f7941d"/>
<circle cx="248.60" cy="259.40" r="1.95" fill="#f7941d"/>
<circle cx="253.30" cy="262.80" r="1.95" fill="#f7941d"/>
<circle cx="290.00" cy="259.30" r="1.95" fill="#f7941d"/>
<circle cx="299.20" cy="264.00" r="1.95" fill="#f7941d"/>
<circle cx="261.20" cy="270.60" r="1.95" fill="#f7941d"/>
<circle cx="266.00" cy="251.00" r="1.95" fill="#f7941d"/>
<circle cx="262.10" cy="258.70" r="1.95" fill="#f7941d"/>
<circle cx="203.90" cy="207.70" r="1.95" fill="#3ab54a"/>
<circle cx="225.80" cy="212.50" r="1.95" fill="#3ab54a"/>
<circle cx="232.70" cy="233.00" r="1.95" fill="#3ab54a"/>
<circle cx="241.30" cy="232.20" r="1.95" fill="#3ab54a"/>
<circle cx="243.30" cy="234.70" r="1.95" fill="#3ab54a"/>
<circle cx="262.60" cy="228.40" r="1.95" fill="#3ab54a"/>
<circle cx="253.20" cy="245.20" r="1.95" fill="#3ab54a"/>
<circle cx="261.00" cy="243.50" r="1.95" fill="#3ab54a"/>
<circle cx="296.50" cy="241.80" r="1.95" fill="#3ab54a"/>
<circle cx="299.10" cy="245.30" r="1.95" fill="#3ab54a"/>
<circle cx="266.00" cy="249.00" r="1.95" fill="#3ab54a"/>
<circle cx="228.60" cy="245.10" r="1.95" fill="#3ab54a"/>
<circle cx="244.80" cy="248.20" r="1.95" fill="#3ab54a"/>
<circle cx="248.50" cy="247.00" r="1.95" fill="#3ab54a"/>
<circle cx="250.10" cy="255.30" r="1.95" fill="#3ab54a"/>
<circle cx="318.60" cy="253.40" r="1.95" fill="#3ab54a"/>
<circle cx="290.00" cy="249.20" r="1.95" fill="#3ab54a"/>
<circle cx="228.60" cy="196.90" r="1.95" fill="#c8102e"/>
<circle cx="232.80" cy="208.40" r="1.95" fill="#c8102e"/>
<circle cx="242.60" cy="206.60" r="1.95" fill="#c8102e"/>
<circle cx="241.30" cy="210.40" r="1.95" fill="#c8102e"/>
<circle cx="245.10" cy="210.40" r="1.95" fill="#c8102e"/>
<circle cx="248.30" cy="203.30" r="1.95" fill="#c8102e"/>
<circle cx="250.30" cy="202.00" r="1.95" fill="#c8102e"/>
<circle cx="253.10" cy="199.50" r="1.95" fill="#c8102e"/>
<circle cx="225.80" cy="227.40" r="1.95" fill="#c8102e"/>
<circle cx="260.50" cy="206.40" r="1.95" fill="#c8102e"/>
<circle cx="262.60" cy="208.40" r="1.95" fill="#c8102e"/>
<circle cx="266.20" cy="206.40" r="1.95" fill="#c8102e"/>
<circle cx="289.80" cy="197.50" r="1.95" fill="#c8102e"/>
<circle cx="299.10" cy="197.20" r="1.95" fill="#c8102e"/>
<circle cx="296.50" cy="202.30" r="1.95" fill="#c8102e"/>
<circle cx="318.60" cy="206.80" r="1.95" fill="#c8102e"/>
<circle cx="203.90" cy="246.30" r="1.95" fill="#c8102e"/>
<circle cx="250.50" cy="203.00" r="1.95" fill="#c8102e"/>
</g>
<line x1="190.60" y1="175.50" x2="190.60" y2="275.80" stroke="#231f20" stroke-width="1.35"/>
<line x1="190.10" y1="275.30" x2="338.80" y2="275.30" stroke="#231f20" stroke-width="1.35"/>
<line x1="187.20" y1="275.30" x2="190.60" y2="275.30" stroke="#231f20" stroke-width="0.9"/>
<line x1="187.20" y1="265.58" x2="190.60" y2="265.58" stroke="#231f20" stroke-width="0.9"/>
<line x1="187.20" y1="255.86" x2="190.60" y2="255.86" stroke="#231f20" stroke-width="0.9"/>
<line x1="187.20" y1="246.14" x2="190.60" y2="246.14" stroke="#231f20" stroke-width="0.9"/>
<line x1="187.20" y1="236.42" x2="190.60" y2="236.42" stroke="#231f20" stroke-width="0.9"/>
<line x1="187.20" y1="226.70" x2="190.60" y2="226.70" stroke="#231f20" stroke-width="0.9"/>
<line x1="187.20" y1="216.98" x2="190.60" y2="216.98" stroke="#231f20" stroke-width="0.9"/>
<line x1="187.20" y1="207.26" x2="190.60" y2="207.26" stroke="#231f20" stroke-width="0.9"/>
<line x1="187.20" y1="197.54" x2="190.60" y2="197.54" stroke="#231f20" stroke-width="0.9"/>
<line x1="187.20" y1="187.82" x2="190.60" y2="187.82" stroke="#231f20" stroke-width="0.9"/>
<line x1="187.20" y1="178.10" x2="190.60" y2="178.10" stroke="#231f20" stroke-width="0.9"/>
<text x="184.00" y="180.80" font-size="8.1" text-anchor="end" textLength="12.30" lengthAdjust="spacingAndGlyphs" stroke="#231f20" stroke-width="0.1">100</text>
<text x="184.00" y="200.24" font-size="8.1" text-anchor="end" textLength="8.20" lengthAdjust="spacingAndGlyphs" stroke="#231f20" stroke-width="0.1">80</text>
<text x="184.00" y="219.68" font-size="8.1" text-anchor="end" textLength="8.20" lengthAdjust="spacingAndGlyphs" stroke="#231f20" stroke-width="0.1">60</text>
<text x="184.00" y="239.12" font-size="8.1" text-anchor="end" textLength="8.20" lengthAdjust="spacingAndGlyphs" stroke="#231f20" stroke-width="0.1">40</text>
<text x="184.00" y="258.56" font-size="8.1" text-anchor="end" textLength="8.20" lengthAdjust="spacingAndGlyphs" stroke="#231f20" stroke-width="0.1">20</text>
<text x="184.00" y="278.00" font-size="8.1" text-anchor="end" textLength="4.10" lengthAdjust="spacingAndGlyphs" stroke="#231f20" stroke-width="0.1">0</text>
<line x1="190.80" y1="275.30" x2="190.80" y2="278.60" stroke="#231f20" stroke-width="0.9"/>
<line x1="208.80" y1="275.30" x2="208.80" y2="278.60" stroke="#231f20" stroke-width="0.9"/>
<line x1="226.80" y1="275.30" x2="226.80" y2="278.60" stroke="#231f20" stroke-width="0.9"/>
<line x1="244.80" y1="275.30" x2="244.80" y2="278.60" stroke="#231f20" stroke-width="0.9"/>
<line x1="262.80" y1="275.30" x2="262.80" y2="278.60" stroke="#231f20" stroke-width="0.9"/>
<line x1="280.80" y1="275.30" x2="280.80" y2="278.60" stroke="#231f20" stroke-width="0.9"/>
<line x1="298.80" y1="275.30" x2="298.80" y2="278.60" stroke="#231f20" stroke-width="0.9"/>
<line x1="316.80" y1="275.30" x2="316.80" y2="278.60" stroke="#231f20" stroke-width="0.9"/>
<line x1="334.80" y1="275.30" x2="334.80" y2="278.60" stroke="#231f20" stroke-width="0.9"/>
<text x="190.80" y="287.20" font-size="8.1" text-anchor="middle" textLength="4.10" lengthAdjust="spacingAndGlyphs" stroke="#231f20" stroke-width="0.1">0</text>
<text x="226.80" y="287.20" font-size="8.1" text-anchor="middle" textLength="8.20" lengthAdjust="spacingAndGlyphs" stroke="#231f20" stroke-width="0.1">20</text>
<text x="262.80" y="287.20" font-size="8.1" text-anchor="middle" textLength="8.20" lengthAdjust="spacingAndGlyphs" stroke="#231f20" stroke-width="0.1">40</text>
<text x="298.80" y="287.20" font-size="8.1" text-anchor="middle" textLength="8.20" lengthAdjust="spacingAndGlyphs" stroke="#231f20" stroke-width="0.1">60</text>
<text x="334.80" y="287.20" font-size="8.1" text-anchor="middle" textLength="8.20" lengthAdjust="spacingAndGlyphs" stroke="#231f20" stroke-width="0.1">80</text>
<text x="204.20" y="302.00" font-size="9" textLength="122.00" lengthAdjust="spacingAndGlyphs" stroke="#231f20" stroke-width="0.1">CD71<tspan font-size="6.8" dy="-3.6">+</tspan><tspan dy="3.6"> CD34</tspan><tspan font-size="6.5" dy="-3.6">lo</tspan><tspan dy="3.6"> cells [% of HSC/MPPs]</tspan></text>
<text x="169.20" y="247.00" font-size="9" textLength="41.00" lengthAdjust="spacingAndGlyphs" transform="rotate(-90 169.20 247.00)" stroke="#231f20" stroke-width="0.1">Colonies [%]</text>
<line x1="330.30" y1="192.70" x2="341.30" y2="192.70" stroke="#c8102e" stroke-width="1.1"/>
<circle cx="336.00" cy="192.70" r="2.0" fill="#c8102e"/>
<text x="344.50" y="194.60" font-size="8.1" textLength="22.00" lengthAdjust="spacingAndGlyphs" stroke="#231f20" stroke-width="0.1">All Ery</text>
<text x="344.50" y="202.90" font-size="8.1" textLength="31.80" lengthAdjust="spacingAndGlyphs" stroke="#231f20" stroke-width="0.1">p=0.0131</text>
<line x1="330.30" y1="223.80" x2="341.30" y2="223.80" stroke="#f7941d" stroke-width="1.1"/>
<circle cx="336.00" cy="223.80" r="2.0" fill="#f7941d"/>
<text x="344.50" y="225.70" font-size="8.1" textLength="26.00" lengthAdjust="spacingAndGlyphs" stroke="#231f20" stroke-width="0.1">All Meg</text>
<text x="344.50" y="234.00" font-size="8.1" textLength="31.80" lengthAdjust="spacingAndGlyphs" stroke="#231f20" stroke-width="0.1">p=0.0016</text>
<line x1="330.30" y1="254.50" x2="341.30" y2="254.50" stroke="#3ab54a" stroke-width="1.1"/>
<circle cx="336.00" cy="254.50" r="2.0" fill="#3ab54a"/>
<text x="344.50" y="256.40" font-size="8.1" textLength="21.20" lengthAdjust="spacingAndGlyphs" stroke="#231f20" stroke-width="0.1">All My</text>
<text x="344.50" y="264.70" font-size="8.1" textLength="31.80" lengthAdjust="spacingAndGlyphs" stroke="#231f20" stroke-width="0.1">p=0.0077</text>
<text x="395.00" y="163.60" font-size="11.3" font-weight="bold" fill="#000" stroke="#000" stroke-width="0.45" textLength="5.80" lengthAdjust="spacingAndGlyphs">E</text>
<text x="427.00" y="174.20" font-size="9.8" font-style="italic" textLength="45.90" lengthAdjust="spacingAndGlyphs" stroke="#231f20" stroke-width="0.1">HSC/MPPs</text>
<line x1="408.80" y1="177.70" x2="408.80" y2="279.50" stroke="#231f20" stroke-width="1.6"/>
<line x1="408.00" y1="278.70" x2="513.10" y2="278.70" stroke="#231f20" stroke-width="1.6"/>
<polyline points="427.60,262.20 427.60,178.20 512.30,178.20 512.30,262.20" fill="none" stroke="#231f20" stroke-width="1.7"/>
<line x1="426.80" y1="262.20" x2="513.10" y2="262.20" stroke="#231f20" stroke-width="1.7"/>
<g fill="#4455cc" fill-opacity="0.6"><rect x="483.7" y="216.0" width="0.8" height="0.8"/><rect x="481.9" y="201.8" width="0.8" height="0.8"/><rect x="477.7" y="244.2" width="0.8" height="0.8"/><rect x="480.2" y="207.0" width="0.8" height="0.8"/><rect x="484.1" y="243.3" width="0.8" height="0.8"/><rect x="486.0" y="232.5" width="0.8" height="0.8"/><rect x="484.8" y="206.9" width="0.8" height="0.8"/><rect x="481.4" y="208.9" width="0.8" height="0.8"/><rect x="484.1" y="232.4" width="0.8" height="0.8"/><rect x="483.3" y="260.9" width="0.8" height="0.8"/><rect x="485.5" y="217.9" width="0.8" height="0.8"/><rect x="475.9" y="212.7" width="0.8" height="0.8"/><rect x="480.8" y="242.8" width="0.8" height="0.8"/><rect x="485.5" y="222.4" width="0.8" height="0.8"/><rect x="479.6" y="213.3" width="0.8" height="0.8"/><rect x="481.8" y="211.6" width="0.8" height="0.8"/><rect x="483.9" y="227.9" width="0.8" height="0.8"/><rect x="486.1" y="224.2" width="0.8" height="0.8"/><rect x="484.3" y="231.1" width="0.8" height="0.8"/><rect x="481.0" y="201.4" width="0.8" height="0.8"/><rect x="484.3" y="230.6" width="0.8" height="0.8"/><rect x="481.5" y="240.8" width="0.8" height="0.8"/><rect x="482.6" y="213.1" width="0.8" height="0.8"/><rect x="485.0" y="257.6" width="0.8" height="0.8"/><rect x="489.6" y="221.4" width="0.8" height="0.8"/><rect x="476.6" y="210.4" width="0.8" height="0.8"/><rect x="481.0" y="201.3" width="0.8" height="0.8"/><rect x="493.1" y="205.7" width="0.8" height="0.8"/><rect x="482.4" y="201.7" width="0.8" height="0.8"/><rect x="477.3" y="218.7" width="0.8" height="0.8"/><rect x="479.5" y="210.5" width="0.8" height="0.8"/><rect x="482.5" y="217.4" width="0.8" height="0.8"/><rect x="488.0" y="210.0" width="0.8" height="0.8"/><rect x="484.2" y="211.4" width="0.8" height="0.8"/><rect x="481.3" y="220.0" width="0.8" height="0.8"/><rect x="481.2" y="234.6" width="0.8" height="0.8"/><rect x="481.6" y="211.2" width="0.8" height="0.8"/><rect x="484.8" y="228.0" width="0.8" height="0.8"/><rect x="487.8" y="228.1" width="0.8" height="0.8"/><rect x="486.3" y="238.0" width="0.8" height="0.8"/><rect x="482.2" y="207.8" width="0.8" height="0.8"/><rect x="489.5" y="231.9" width="0.8" height="0.8"/><rect x="477.5" y="245.2" width="0.8" height="0.8"/><rect x="484.9" y="229.7" width="0.8" height="0.8"/><rect x="483.6" y="199.2" width="0.8" height="0.8"/><rect x="491.9" y="238.9" width="0.8" height="0.8"/><rect x="483.4" y="235.3" width="0.8" height="0.8"/><rect x="482.0" y="200.2" width="0.8" height="0.8"/><rect x="482.0" y="201.9" width="0.8" height="0.8"/><rect x="481.6" y="219.0" width="0.8" height="0.8"/><rect x="480.4" y="207.3" width="0.8" height="0.8"/><rect x="484.5" y="218.3" width="0.8" height="0.8"/><rect x="484.5" y="209.1" width="0.8" height="0.8"/><rect x="487.5" y="232.8" width="0.8" height="0.8"/><rect x="479.6" y="206.1" width="0.8" height="0.8"/><rect x="481.0" y="219.1" width="0.8" height="0.8"/><rect x="478.4" y="204.3" width="0.8" height="0.8"/><rect x="480.8" y="246.0" width="0.8" height="0.8"/><rect x="477.9" y="259.3" width="0.8" height="0.8"/><rect x="476.9" y="226.7" width="0.8" height="0.8"/><rect x="483.7" y="241.5" width="0.8" height="0.8"/><rect x="482.8" y="229.2" width="0.8" height="0.8"/><rect x="476.9" y="213.5" width="0.8" height="0.8"/><rect x="480.4" y="220.9" width="0.8" height="0.8"/><rect x="485.9" y="222.6" width="0.8" height="0.8"/><rect x="477.9" y="215.5" width="0.8" height="0.8"/><rect x="486.6" y="234.6" width="0.8" height="0.8"/><rect x="488.2" y="241.8" width="0.8" height="0.8"/><rect x="481.8" y="215.0" width="0.8" height="0.8"/><rect x="481.5" y="213.6" width="0.8" height="0.8"/><rect x="482.5" y="206.3" width="0.8" height="0.8"/><rect x="484.6" y="226.4" width="0.8" height="0.8"/><rect x="480.7" y="200.0" width="0.8" height="0.8"/><rect x="480.5" y="218.1" width="0.8" height="0.8"/><rect x="482.2" y="206.9" width="0.8" height="0.8"/><rect x="480.1" y="210.2" width="0.8" height="0.8"/><rect x="482.0" y="242.0" width="0.8" height="0.8"/><rect x="484.5" y="250.4" width="0.8" height="0.8"/><rect x="481.3" y="228.6" width="0.8" height="0.8"/><rect x="485.1" y="211.2" width="0.8" height="0.8"/><rect x="478.1" y="237.7" width="0.8" height="0.8"/><rect x="481.1" y="211.8" width="0.8" height="0.8"/><rect x="477.7" y="208.7" width="0.8" height="0.8"/><rect x="477.2" y="202.8" width="0.8" height="0.8"/><rect x="479.3" y="213.8" width="0.8" height="0.8"/><rect x="483.5" y="211.0" width="0.8" height="0.8"/><rect x="487.7" y="216.1" width="0.8" height="0.8"/><rect x="479.4" y="230.8" width="0.8" height="0.8"/><rect x="477.8" y="227.7" width="0.8" height="0.8"/><rect x="483.3" y="242.0" width="0.8" height="0.8"/><rect x="479.0" y="207.5" width="0.8" height="0.8"/><rect x="482.0" y="201.0" width="0.8" height="0.8"/><rect x="479.0" y="211.0" width="0.8" height="0.8"/><rect x="483.2" y="216.6" width="0.8" height="0.8"/><rect x="479.1" y="217.0" width="0.8" height="0.8"/><rect x="483.8" y="219.2" width="0.8" height="0.8"/><rect x="484.6" y="231.8" width="0.8" height="0.8"/><rect x="482.6" y="228.5" width="0.8" height="0.8"/><rect x="484.0" y="209.9" width="0.8" height="0.8"/><rect x="487.3" y="222.4" width="0.8" height="0.8"/><rect x="487.5" y="238.7" width="0.8" height="0.8"/><rect x="484.5" y="248.3" width="0.8" height="0.8"/><rect x="481.1" y="247.6" width="0.8" height="0.8"/><rect x="481.4" y="203.6" width="0.8" height="0.8"/><rect x="482.0" y="212.3" width="0.8" height="0.8"/><rect x="481.7" y="202.9" width="0.8" height="0.8"/><rect x="484.2" y="208.8" width="0.8" height="0.8"/><rect x="485.7" y="216.8" width="0.8" height="0.8"/><rect x="477.6" y="209.6" width="0.8" height="0.8"/><rect x="490.1" y="208.8" width="0.8" height="0.8"/><rect x="480.9" y="228.8" width="0.8" height="0.8"/><rect x="483.0" y="218.5" width="0.8" height="0.8"/><rect x="485.8" y="234.7" width="0.8" height="0.8"/><rect x="485.1" y="219.2" width="0.8" height="0.8"/><rect x="479.8" y="195.6" width="0.8" height="0.8"/><rect x="482.1" y="252.2" width="0.8" height="0.8"/><rect x="480.2" y="203.0" width="0.8" height="0.8"/><rect x="478.5" y="237.0" width="0.8" height="0.8"/><rect x="485.3" y="209.3" width="0.8" height="0.8"/><rect x="482.6" y="234.7" width="0.8" height="0.8"/><rect x="485.3" y="233.2" width="0.8" height="0.8"/><rect x="481.8" y="212.9" width="0.8" height="0.8"/><rect x="483.7" y="213.5" width="0.8" height="0.8"/><rect x="478.9" y="214.2" width="0.8" height="0.8"/><rect x="477.4" y="233.4" width="0.8" height="0.8"/><rect x="484.8" y="215.2" width="0.8" height="0.8"/><rect x="478.9" y="206.8" width="0.8" height="0.8"/><rect x="476.6" y="216.3" width="0.8" height="0.8"/><rect x="482.7" y="231.6" width="0.8" height="0.8"/><rect x="488.7" y="236.4" width="0.8" height="0.8"/><rect x="482.4" y="211.7" width="0.8" height="0.8"/><rect x="482.2" y="229.9" width="0.8" height="0.8"/><rect x="483.0" y="235.9" width="0.8" height="0.8"/><rect x="484.8" y="233.3" width="0.8" height="0.8"/><rect x="489.7" y="224.9" width="0.8" height="0.8"/><rect x="485.2" y="211.7" width="0.8" height="0.8"/><rect x="480.1" y="220.7" width="0.8" height="0.8"/><rect x="479.8" y="224.0" width="0.8" height="0.8"/><rect x="489.0" y="234.1" width="0.8" height="0.8"/><rect x="482.6" y="228.0" width="0.8" height="0.8"/><rect x="482.5" y="207.8" width="0.8" height="0.8"/><rect x="479.4" y="219.4" width="0.8" height="0.8"/><rect x="488.0" y="235.2" width="0.8" height="0.8"/><rect x="478.0" y="232.1" width="0.8" height="0.8"/><rect x="479.9" y="225.4" width="0.8" height="0.8"/><rect x="481.6" y="212.9" width="0.8" height="0.8"/><rect x="486.3" y="215.1" width="0.8" height="0.8"/><rect x="484.0" y="231.7" width="0.8" height="0.8"/><rect x="487.0" y="224.0" width="0.8" height="0.8"/><rect x="479.8" y="212.6" width="0.8" height="0.8"/><rect x="482.4" y="216.9" width="0.8" height="0.8"/><rect x="482.1" y="209.6" width="0.8" height="0.8"/><rect x="480.7" y="215.5" width="0.8" height="0.8"/><rect x="481.3" y="218.9" width="0.8" height="0.8"/><rect x="483.2" y="209.4" width="0.8" height="0.8"/><rect x="479.9" y="229.2" width="0.8" height="0.8"/><rect x="476.3" y="207.3" width="0.8" height="0.8"/><rect x="482.9" y="245.0" width="0.8" height="0.8"/><rect x="485.0" y="237.2" width="0.8" height="0.8"/><rect x="481.1" y="214.4" width="0.8" height="0.8"/><rect x="483.4" y="211.1" width="0.8" height="0.8"/><rect x="478.9" y="213.0" width="0.8" height="0.8"/><rect x="483.7" y="226.7" width="0.8" height="0.8"/><rect x="478.1" y="199.4" width="0.8" height="0.8"/><rect x="477.1" y="242.3" width="0.8" height="0.8"/><rect x="485.2" y="215.9" width="0.8" height="0.8"/><rect x="484.1" y="214.1" width="0.8" height="0.8"/><rect x="478.4" y="205.8" width="0.8" height="0.8"/><rect x="480.7" y="217.6" width="0.8" height="0.8"/><rect x="479.4" y="203.3" width="0.8" height="0.8"/><rect x="483.5" y="213.9" width="0.8" height="0.8"/><rect x="480.9" y="218.1" width="0.8" height="0.8"/><rect x="481.7" y="212.5" width="0.8" height="0.8"/><rect x="484.8" y="224.9" width="0.8" height="0.8"/><rect x="487.0" y="238.7" width="0.8" height="0.8"/><rect x="482.1" y="198.9" width="0.8" height="0.8"/><rect x="482.4" y="235.9" width="0.8" height="0.8"/><rect x="479.6" y="205.3" width="0.8" height="0.8"/><rect x="483.2" y="223.0" width="0.8" height="0.8"/><rect x="486.7" y="238.6" width="0.8" height="0.8"/><rect x="479.8" y="214.0" width="0.8" height="0.8"/><rect x="479.4" y="211.0" width="0.8" height="0.8"/><rect x="485.1" y="235.3" width="0.8" height="0.8"/><rect x="479.0" y="215.9" width="0.8" height="0.8"/><rect x="482.0" y="204.9" width="0.8" height="0.8"/><rect x="482.5" y="220.6" width="0.8" height="0.8"/><rect x="482.5" y="213.5" width="0.8" height="0.8"/><rect x="483.0" y="217.1" width="0.8" height="0.8"/><rect x="482.6" y="212.1" width="0.8" height="0.8"/><rect x="476.8" y="240.6" width="0.8" height="0.8"/><rect x="481.3" y="227.6" width="0.8" height="0.8"/><rect x="480.1" y="213.4" width="0.8" height="0.8"/><rect x="483.3" y="225.2" width="0.8" height="0.8"/><rect x="482.9" y="235.2" width="0.8" height="0.8"/><rect x="482.0" y="216.1" width="0.8" height="0.8"/><rect x="483.8" y="235.2" width="0.8" height="0.8"/><rect x="483.4" y="231.3" width="0.8" height="0.8"/><rect x="482.7" y="216.1" width="0.8" height="0.8"/><rect x="488.4" y="214.3" width="0.8" height="0.8"/><rect x="479.9" y="208.5" width="0.8" height="0.8"/><rect x="482.8" y="202.3" width="0.8" height="0.8"/><rect x="481.3" y="241.1" width="0.8" height="0.8"/><rect x="482.8" y="210.4" width="0.8" height="0.8"/><rect x="477.8" y="249.3" width="0.8" height="0.8"/><rect x="478.6" y="224.2" width="0.8" height="0.8"/><rect x="481.2" y="235.9" width="0.8" height="0.8"/><rect x="487.2" y="227.7" width="0.8" height="0.8"/><rect x="480.8" y="250.5" width="0.8" height="0.8"/><rect x="480.3" y="227.7" width="0.8" height="0.8"/><rect x="483.3" y="205.9" width="0.8" height="0.8"/><rect x="480.1" y="224.3" width="0.8" height="0.8"/><rect x="480.7" y="216.0" width="0.8" height="0.8"/><rect x="481.1" y="243.7" width="0.8" height="0.8"/><rect x="479.8" y="215.6" width="0.8" height="0.8"/><rect x="487.2" y="238.3" width="0.8" height="0.8"/><rect x="476.7" y="219.1" width="0.8" height="0.8"/><rect x="488.1" y="237.3" width="0.8" height="0.8"/><rect x="481.4" y="209.4" width="0.8" height="0.8"/><rect x="475.5" y="213.5" width="0.8" height="0.8"/><rect x="481.6" y="240.2" width="0.8" height="0.8"/><rect x="481.0" y="231.1" width="0.8" height="0.8"/><rect x="484.3" y="227.1" width="0.8" height="0.8"/><rect x="480.1" y="211.4" width="0.8" height="0.8"/><rect x="481.6" y="206.9" width="0.8" height="0.8"/><rect x="486.1" y="211.4" width="0.8" height="0.8"/><rect x="488.7" y="244.3" width="0.8" height="0.8"/><rect x="482.0" y="216.3" width="0.8" height="0.8"/><rect x="479.9" y="204.5" width="0.8" height="0.8"/><rect x="481.7" y="231.2" width="0.8" height="0.8"/><rect x="482.0" y="207.1" width="0.8" height="0.8"/><rect x="486.9" y="230.3" width="0.8" height="0.8"/><rect x="478.7" y="217.0" width="0.8" height="0.8"/><rect x="488.2" y="238.6" width="0.8" height="0.8"/><rect x="489.8" y="226.9" width="0.8" height="0.8"/><rect x="486.4" y="219.5" width="0.8" height="0.8"/><rect x="484.9" y="242.5" width="0.8" height="0.8"/><rect x="483.3" y="233.7" width="0.8" height="0.8"/><rect x="488.0" y="218.0" width="0.8" height="0.8"/><rect x="481.0" y="204.6" width="0.8" height="0.8"/><rect x="474.6" y="238.0" width="0.8" height="0.8"/><rect x="484.1" y="217.8" width="0.8" height="0.8"/><rect x="483.4" y="223.5" width="0.8" height="0.8"/><rect x="483.4" y="216.6" width="0.8" height="0.8"/><rect x="486.3" y="236.4" width="0.8" height="0.8"/><rect x="483.0" y="232.7" width="0.8" height="0.8"/><rect x="479.2" y="201.7" width="0.8" height="0.8"/><rect x="479.1" y="245.1" width="0.8" height="0.8"/><rect x="478.2" y="215.3" width="0.8" height="0.8"/><rect x="481.3" y="237.5" width="0.8" height="0.8"/><rect x="486.0" y="211.6" width="0.8" height="0.8"/><rect x="483.5" y="217.1" width="0.8" height="0.8"/><rect x="484.7" y="237.4" width="0.8" height="0.8"/><rect x="481.4" y="221.0" width="0.8" height="0.8"/><rect x="487.0" y="235.9" width="0.8" height="0.8"/><rect x="486.4" y="229.9" width="0.8" height="0.8"/><rect x="476.2" y="214.2" width="0.8" height="0.8"/><rect x="478.9" y="237.5" width="0.8" height="0.8"/><rect x="478.5" y="213.2" width="0.8" height="0.8"/><rect x="482.4" y="216.8" width="0.8" height="0.8"/><rect x="483.9" y="212.5" width="0.8" height="0.8"/><rect x="479.4" y="236.7" width="0.8" height="0.8"/><rect x="475.8" y="259.3" width="0.8" height="0.8"/><rect x="485.3" y="231.1" width="0.8" height="0.8"/><rect x="482.6" y="213.6" width="0.8" height="0.8"/><rect x="477.2" y="214.3" width="0.8" height="0.8"/><rect x="486.5" y="236.6" width="0.8" height="0.8"/><rect x="483.0" y="235.2" width="0.8" height="0.8"/><rect x="481.0" y="241.7" width="0.8" height="0.8"/><rect x="490.6" y="227.0" width="0.8" height="0.8"/><rect x="481.3" y="202.4" width="0.8" height="0.8"/><rect x="483.2" y="216.6" width="0.8" height="0.8"/><rect x="480.5" y="198.6" width="0.8" height="0.8"/><rect x="480.2" y="218.8" width="0.8" height="0.8"/><rect x="484.9" y="220.6" width="0.8" height="0.8"/><rect x="478.4" y="222.0" width="0.8" height="0.8"/><rect x="486.8" y="234.9" width="0.8" height="0.8"/><rect x="480.5" y="210.0" width="0.8" height="0.8"/><rect x="483.4" y="215.9" width="0.8" height="0.8"/><rect x="478.2" y="257.9" width="0.8" height="0.8"/><rect x="480.3" y="205.2" width="0.8" height="0.8"/><rect x="484.7" y="212.6" width="0.8" height="0.8"/><rect x="478.6" y="212.0" width="0.8" height="0.8"/><rect x="483.9" y="210.0" width="0.8" height="0.8"/><rect x="480.9" y="218.4" width="0.8" height="0.8"/><rect x="483.5" y="238.3" width="0.8" height="0.8"/><rect x="484.4" y="242.6" width="0.8" height="0.8"/><rect x="486.6" y="234.9" width="0.8" height="0.8"/><rect x="480.6" y="236.8" width="0.8" height="0.8"/><rect x="478.6" y="202.2" width="0.8" height="0.8"/><rect x="478.1" y="212.8" width="0.8" height="0.8"/><rect x="477.9" y="251.2" width="0.8" height="0.8"/><rect x="470.4" y="246.9" width="0.8" height="0.8"/><rect x="494.1" y="209.2" width="0.8" height="0.8"/><rect x="477.4" y="243.3" width="0.8" height="0.8"/><rect x="483.5" y="216.8" width="0.8" height="0.8"/><rect x="486.9" y="229.0" width="0.8" height="0.8"/><rect x="484.8" y="215.2" width="0.8" height="0.8"/><rect x="483.5" y="202.6" width="0.8" height="0.8"/><rect x="489.0" y="212.2" width="0.8" height="0.8"/><rect x="484.1" y="198.5" width="0.8" height="0.8"/><rect x="485.3" y="237.0" width="0.8" height="0.8"/><rect x="483.5" y="211.5" width="0.8" height="0.8"/><rect x="480.8" y="210.9" width="0.8" height="0.8"/><rect x="485.3" y="212.5" width="0.8" height="0.8"/><rect x="482.4" y="245.8" width="0.8" height="0.8"/><rect x="480.4" y="218.6" width="0.8" height="0.8"/><rect x="483.4" y="207.4" width="0.8" height="0.8"/><rect x="486.3" y="238.5" width="0.8" height="0.8"/><rect x="483.6" y="231.1" width="0.8" height="0.8"/><rect x="487.5" y="238.9" width="0.8" height="0.8"/><rect x="486.4" y="247.4" width="0.8" height="0.8"/><rect x="481.2" y="203.8" width="0.8" height="0.8"/><rect x="483.9" y="242.0" width="0.8" height="0.8"/><rect x="482.1" y="207.8" width="0.8" height="0.8"/><rect x="482.6" y="210.1" width="0.8" height="0.8"/><rect x="486.9" y="239.7" width="0.8" height="0.8"/><rect x="482.8" y="227.1" width="0.8" height="0.8"/><rect x="472.2" y="261.3" width="0.8" height="0.8"/><rect x="484.0" y="224.0" width="0.8" height="0.8"/><rect x="477.0" y="215.1" width="0.8" height="0.8"/><rect x="479.1" y="245.2" width="0.8" height="0.8"/><rect x="476.4" y="208.4" width="0.8" height="0.8"/><rect x="479.2" y="217.6" width="0.8" height="0.8"/><rect x="484.8" y="241.5" width="0.8" height="0.8"/><rect x="483.0" y="214.9" width="0.8" height="0.8"/><rect x="483.0" y="211.0" width="0.8" height="0.8"/><rect x="481.9" y="202.4" width="0.8" height="0.8"/><rect x="482.7" y="204.6" width="0.8" height="0.8"/><rect x="479.7" y="208.7" width="0.8" height="0.8"/><rect x="483.0" y="207.5" width="0.8" height="0.8"/><rect x="483.6" y="203.2" width="0.8" height="0.8"/><rect x="485.4" y="230.8" width="0.8" height="0.8"/><rect x="480.9" y="215.1" width="0.8" height="0.8"/><rect x="477.8" y="202.5" width="0.8" height="0.8"/><rect x="487.3" y="241.7" width="0.8" height="0.8"/><rect x="482.5" y="227.9" width="0.8" height="0.8"/><rect x="483.8" y="242.4" width="0.8" height="0.8"/><rect x="481.6" y="218.1" width="0.8" height="0.8"/><rect x="485.3" y="243.2" width="0.8" height="0.8"/><rect x="478.4" y="204.8" width="0.8" height="0.8"/><rect x="477.1" y="212.1" width="0.8" height="0.8"/><rect x="479.0" y="222.1" width="0.8" height="0.8"/><rect x="484.0" y="240.2" width="0.8" height="0.8"/><rect x="479.3" y="213.0" width="0.8" height="0.8"/><rect x="485.9" y="212.7" width="0.8" height="0.8"/><rect x="480.4" y="213.9" width="0.8" height="0.8"/><rect x="478.3" y="206.0" width="0.8" height="0.8"/><rect x="482.9" y="217.3" width="0.8" height="0.8"/><rect x="480.5" y="235.8" width="0.8" height="0.8"/><rect x="484.7" y="230.6" width="0.8" height="0.8"/><rect x="485.7" y="241.3" width="0.8" height="0.8"/><rect x="481.9" y="218.2" width="0.8" height="0.8"/><rect x="486.4" y="230.8" width="0.8" height="0.8"/><rect x="482.2" y="204.1" width="0.8" height="0.8"/><rect x="485.3" y="206.1" width="0.8" height="0.8"/><rect x="477.8" y="207.2" width="0.8" height="0.8"/><rect x="483.3" y="235.6" width="0.8" height="0.8"/><rect x="486.1" y="222.1" width="0.8" height="0.8"/><rect x="483.5" y="211.0" width="0.8" height="0.8"/><rect x="483.6" y="225.1" width="0.8" height="0.8"/><rect x="480.4" y="214.4" width="0.8" height="0.8"/><rect x="480.4" y="206.0" width="0.8" height="0.8"/><rect x="486.0" y="211.2" width="0.8" height="0.8"/><rect x="484.0" y="249.0" width="0.8" height="0.8"/><rect x="480.4" y="225.8" width="0.8" height="0.8"/><rect x="481.0" y="219.6" width="0.8" height="0.8"/><rect x="481.6" y="217.6" width="0.8" height="0.8"/><rect x="485.9" y="258.7" width="0.8" height="0.8"/><rect x="487.8" y="241.3" width="0.8" height="0.8"/><rect x="479.9" y="211.4" width="0.8" height="0.8"/><rect x="477.8" y="216.9" width="0.8" height="0.8"/><rect x="483.2" y="241.4" width="0.8" height="0.8"/><rect x="480.5" y="198.6" width="0.8" height="0.8"/><rect x="480.5" y="203.0" width="0.8" height="0.8"/><rect x="476.7" y="214.7" width="0.8" height="0.8"/><rect x="478.0" y="225.4" width="0.8" height="0.8"/><rect x="486.2" y="213.2" width="0.8" height="0.8"/><rect x="486.2" y="224.6" width="0.8" height="0.8"/><rect x="484.0" y="231.6" width="0.8" height="0.8"/><rect x="487.2" y="228.2" width="0.8" height="0.8"/><rect x="480.1" y="208.7" width="0.8" height="0.8"/><rect x="477.0" y="215.2" width="0.8" height="0.8"/><rect x="481.0" y="217.5" width="0.8" height="0.8"/><rect x="485.6" y="235.4" width="0.8" height="0.8"/><rect x="482.7" y="241.4" width="0.8" height="0.8"/><rect x="483.1" y="210.8" width="0.8" height="0.8"/><rect x="484.7" y="243.0" width="0.8" height="0.8"/><rect x="484.1" y="204.8" width="0.8" height="0.8"/><rect x="481.8" y="246.2" width="0.8" height="0.8"/><rect x="476.8" y="205.8" width="0.8" height="0.8"/><rect x="485.6" y="206.6" width="0.8" height="0.8"/><rect x="484.7" y="208.0" width="0.8" height="0.8"/><rect x="484.2" y="217.5" width="0.8" height="0.8"/><rect x="483.1" y="210.2" width="0.8" height="0.8"/><rect x="480.0" y="251.9" width="0.8" height="0.8"/><rect x="481.5" y="224.2" width="0.8" height="0.8"/><rect x="487.8" y="229.0" width="0.8" height="0.8"/><rect x="480.2" y="237.7" width="0.8" height="0.8"/><rect x="483.6" y="214.6" width="0.8" height="0.8"/><rect x="479.3" y="242.7" width="0.8" height="0.8"/><rect x="484.9" y="236.4" width="0.8" height="0.8"/><rect x="484.6" y="252.9" width="0.8" height="0.8"/><rect x="482.8" y="204.3" width="0.8" height="0.8"/><rect x="479.8" y="208.6" width="0.8" height="0.8"/><rect x="484.8" y="212.6" width="0.8" height="0.8"/><rect x="483.9" y="221.4" width="0.8" height="0.8"/><rect x="479.5" y="221.2" width="0.8" height="0.8"/><rect x="477.4" y="206.2" width="0.8" height="0.8"/><rect x="480.6" y="210.0" width="0.8" height="0.8"/><rect x="481.8" y="209.1" width="0.8" height="0.8"/><rect x="485.4" y="212.9" width="0.8" height="0.8"/><rect x="478.3" y="213.7" width="0.8" height="0.8"/><rect x="480.6" y="233.6" width="0.8" height="0.8"/><rect x="482.2" y="202.2" width="0.8" height="0.8"/><rect x="486.0" y="221.3" width="0.8" height="0.8"/><rect x="486.3" y="222.0" width="0.8" height="0.8"/><rect x="486.9" y="200.0" width="0.8" height="0.8"/><rect x="483.2" y="214.2" width="0.8" height="0.8"/><rect x="480.2" y="213.9" width="0.8" height="0.8"/><rect x="483.8" y="212.1" width="0.8" height="0.8"/><rect x="480.7" y="206.1" width="0.8" height="0.8"/><rect x="486.3" y="208.3" width="0.8" height="0.8"/><rect x="484.6" y="240.9" width="0.8" height="0.8"/><rect x="483.5" y="233.1" width="0.8" height="0.8"/><rect x="484.5" y="218.2" width="0.8" height="0.8"/><rect x="479.4" y="254.0" width="0.8" height="0.8"/><rect x="475.5" y="249.2" width="0.8" height="0.8"/><rect x="479.0" y="204.6" width="0.8" height="0.8"/><rect x="481.4" y="211.8" width="0.8" height="0.8"/><rect x="478.3" y="212.0" width="0.8" height="0.8"/><rect x="488.2" y="236.0" width="0.8" height="0.8"/><rect x="487.2" y="229.3" width="0.8" height="0.8"/><rect x="484.9" y="228.7" width="0.8" height="0.8"/><rect x="482.1" y="215.4" width="0.8" height="0.8"/><rect x="481.1" y="212.5" width="0.8" height="0.8"/><rect x="484.2" y="248.5" width="0.8" height="0.8"/><rect x="479.7" y="214.2" width="0.8" height="0.8"/><rect x="480.5" y="214.1" width="0.8" height="0.8"/><rect x="484.0" y="232.4" width="0.8" height="0.8"/><rect x="480.8" y="212.8" width="0.8" height="0.8"/><rect x="485.9" y="226.6" width="0.8" height="0.8"/><rect x="480.6" y="201.6" width="0.8" height="0.8"/><rect x="482.8" y="208.9" width="0.8" height="0.8"/><rect x="485.6" y="207.9" width="0.8" height="0.8"/><rect x="483.5" y="228.7" width="0.8" height="0.8"/><rect x="483.3" y="225.4" width="0.8" height="0.8"/><rect x="484.7" y="248.3" width="0.8" height="0.8"/><rect x="480.4" y="209.2" width="0.8" height="0.8"/><rect x="487.5" y="238.4" width="0.8" height="0.8"/><rect x="481.7" y="231.8" width="0.8" height="0.8"/><rect x="483.4" y="227.2" width="0.8" height="0.8"/><rect x="481.5" y="209.8" width="0.8" height="0.8"/><rect x="484.3" y="232.3" width="0.8" height="0.8"/><rect x="483.2" y="207.5" width="0.8" height="0.8"/><rect x="486.7" y="216.6" width="0.8" height="0.8"/><rect x="484.9" y="205.5" width="0.8" height="0.8"/><rect x="482.0" y="220.8" width="0.8" height="0.8"/><rect x="488.5" y="242.4" width="0.8" height="0.8"/><rect x="479.9" y="205.9" width="0.8" height="0.8"/><rect x="485.5" y="217.7" width="0.8" height="0.8"/><rect x="481.7" y="215.1" width="0.8" height="0.8"/><rect x="478.2" y="200.4" width="0.8" height="0.8"/><rect x="483.8" y="219.4" width="0.8" height="0.8"/><rect x="485.2" y="224.1" width="0.8" height="0.8"/><rect x="482.5" y="200.6" width="0.8" height="0.8"/><rect x="483.0" y="206.6" width="0.8" height="0.8"/><rect x="486.9" y="236.4" width="0.8" height="0.8"/><rect x="486.7" y="236.2" width="0.8" height="0.8"/><rect x="484.3" y="234.8" width="0.8" height="0.8"/><rect x="480.5" y="208.6" width="0.8" height="0.8"/><rect x="482.4" y="241.7" width="0.8" height="0.8"/><rect x="481.6" y="207.4" width="0.8" height="0.8"/><rect x="487.7" y="242.5" width="0.8" height="0.8"/><rect x="479.7" y="235.2" width="0.8" height="0.8"/><rect x="482.6" y="226.7" width="0.8" height="0.8"/><rect x="484.3" y="216.3" width="0.8" height="0.8"/><rect x="482.2" y="252.0" width="0.8" height="0.8"/><rect x="478.8" y="224.7" width="0.8" height="0.8"/><rect x="474.1" y="211.8" width="0.8" height="0.8"/><rect x="479.5" y="231.0" width="0.8" height="0.8"/><rect x="482.6" y="217.5" width="0.8" height="0.8"/><rect x="479.9" y="207.3" width="0.8" height="0.8"/><rect x="482.0" y="224.9" width="0.8" height="0.8"/><rect x="481.6" y="215.7" width="0.8" height="0.8"/><rect x="477.5" y="204.1" width="0.8" height="0.8"/><rect x="484.0" y="244.7" width="0.8" height="0.8"/><rect x="478.4" y="207.6" width="0.8" height="0.8"/><rect x="484.0" y="213.7" width="0.8" height="0.8"/><rect x="483.7" y="230.4" width="0.8" height="0.8"/><rect x="484.1" y="214.9" width="0.8" height="0.8"/><rect x="492.3" y="233.8" width="0.8" height="0.8"/><rect x="483.8" y="214.8" width="0.8" height="0.8"/><rect x="484.5" y="219.3" width="0.8" height="0.8"/><rect x="482.2" y="213.2" width="0.8" height="0.8"/><rect x="481.9" y="251.8" width="0.8" height="0.8"/><rect x="477.7" y="231.8" width="0.8" height="0.8"/><rect x="482.6" y="215.4" width="0.8" height="0.8"/><rect x="484.7" y="230.7" width="0.8" height="0.8"/><rect x="481.0" y="218.9" width="0.8" height="0.8"/><rect x="479.6" y="229.7" width="0.8" height="0.8"/><rect x="477.9" y="223.3" width="0.8" height="0.8"/><rect x="483.3" y="216.5" width="0.8" height="0.8"/><rect x="484.5" y="234.7" width="0.8" height="0.8"/><rect x="481.7" y="201.8" width="0.8" height="0.8"/><rect x="489.2" y="239.7" width="0.8" height="0.8"/><rect x="480.0" y="228.1" width="0.8" height="0.8"/><rect x="483.3" y="204.2" width="0.8" height="0.8"/><rect x="479.9" y="230.6" width="0.8" height="0.8"/><rect x="482.4" y="208.3" width="0.8" height="0.8"/><rect x="480.1" y="210.6" width="0.8" height="0.8"/><rect x="482.8" y="207.9" width="0.8" height="0.8"/><rect x="478.0" y="211.5" width="0.8" height="0.8"/><rect x="479.5" y="207.4" width="0.8" height="0.8"/><rect x="482.7" y="218.0" width="0.8" height="0.8"/><rect x="486.7" y="222.8" width="0.8" height="0.8"/><rect x="485.6" y="234.8" width="0.8" height="0.8"/><rect x="482.8" y="230.9" width="0.8" height="0.8"/><rect x="482.2" y="240.4" width="0.8" height="0.8"/><rect x="485.3" y="225.5" width="0.8" height="0.8"/><rect x="480.8" y="223.9" width="0.8" height="0.8"/></g>
<polyline points="463.40,205.30 463.40,218.30 482.50,218.30 482.50,179.90 463.40,179.90" fill="none" stroke="#ee3333" stroke-width="1"/>
<polyline points="482.50,262.20 482.50,218.30 501.30,218.30 501.30,262.20" fill="none" stroke="#2a2ae8" stroke-width="1"/>
<line x1="424.90" y1="186.50" x2="427.60" y2="186.50" stroke="#231f20" stroke-width="0.9"/>
<text x="411.80" y="189.50" font-size="8.2" stroke="#231f20" stroke-width="0.1">10<tspan font-size="5.8" dy="-3.4">5</tspan></text>
<line x1="424.90" y1="204.80" x2="427.60" y2="204.80" stroke="#231f20" stroke-width="0.9"/>
<text x="411.80" y="207.80" font-size="8.2" stroke="#231f20" stroke-width="0.1">10<tspan font-size="5.8" dy="-3.4">4</tspan></text>
<line x1="424.90" y1="223.90" x2="427.60" y2="223.90" stroke="#231f20" stroke-width="0.9"/>
<text x="411.80" y="226.90" font-size="8.2" stroke="#231f20" stroke-width="0.1">10<tspan font-size="5.8" dy="-3.4">3</tspan></text>
<line x1="424.90" y1="244.60" x2="427.60" y2="244.60" stroke="#231f20" stroke-width="0.9"/>
<text x="411.80" y="247.60" font-size="8.2" stroke="#231f20" stroke-width="0.1">10<tspan font-size="5.8" dy="-3.4">2</tspan></text>
<line x1="424.90" y1="253.00" x2="427.60" y2="253.00" stroke="#231f20" stroke-width="0.9"/>
<text x="415.30" y="256.00" font-size="8.2" stroke="#231f20" stroke-width="0.1">0</text>
<line x1="427.60" y1="199.29" x2="429.20" y2="199.29" stroke="#231f20" stroke-width="0.6"/>
<line x1="427.60" y1="196.07" x2="429.20" y2="196.07" stroke="#231f20" stroke-width="0.6"/>
<line x1="427.60" y1="193.78" x2="429.20" y2="193.78" stroke="#231f20" stroke-width="0.6"/>
<line x1="427.60" y1="192.01" x2="429.20" y2="192.01" stroke="#231f20" stroke-width="0.6"/>
<line x1="427.60" y1="190.56" x2="429.20" y2="190.56" stroke="#231f20" stroke-width="0.6"/>
<line x1="427.60" y1="189.33" x2="429.20" y2="189.33" stroke="#231f20" stroke-width="0.6"/>
<line x1="427.60" y1="188.27" x2="429.20" y2="188.27" stroke="#231f20" stroke-width="0.6"/>
<line x1="427.60" y1="187.34" x2="429.20" y2="187.34" stroke="#231f20" stroke-width="0.6"/>
<line x1="427.60" y1="218.15" x2="429.20" y2="218.15" stroke="#231f20" stroke-width="0.6"/>
<line x1="427.60" y1="214.79" x2="429.20" y2="214.79" stroke="#231f20" stroke-width="0.6"/>
<line x1="427.60" y1="212.40" x2="429.20" y2="212.40" stroke="#231f20" stroke-width="0.6"/>
<line x1="427.60" y1="210.55" x2="429.20" y2="210.55" stroke="#231f20" stroke-width="0.6"/>
<line x1="427.60" y1="209.04" x2="429.20" y2="209.04" stroke="#231f20" stroke-width="0.6"/>
<line x1="427.60" y1="207.76" x2="429.20" y2="207.76" stroke="#231f20" stroke-width="0.6"/>
<line x1="427.60" y1="206.65" x2="429.20" y2="206.65" stroke="#231f20" stroke-width="0.6"/>
<line x1="427.60" y1="205.67" x2="429.20" y2="205.67" stroke="#231f20" stroke-width="0.6"/>
<line x1="427.60" y1="238.37" x2="429.20" y2="238.37" stroke="#231f20" stroke-width="0.6"/>
<line x1="427.60" y1="234.72" x2="429.20" y2="234.72" stroke="#231f20" stroke-width="0.6"/>
<line x1="427.60" y1="232.14" x2="429.20" y2="232.14" stroke="#231f20" stroke-width="0.6"/>
<line x1="427.60" y1="230.13" x2="429.20" y2="230.13" stroke="#231f20" stroke-width="0.6"/>
<line x1="427.60" y1="228.49" x2="429.20" y2="228.49" stroke="#231f20" stroke-width="0.6"/>
<line x1="427.60" y1="227.11" x2="429.20" y2="227.11" stroke="#231f20" stroke-width="0.6"/>
<line x1="427.60" y1="225.91" x2="429.20" y2="225.91" stroke="#231f20" stroke-width="0.6"/>
<line x1="427.60" y1="224.85" x2="429.20" y2="224.85" stroke="#231f20" stroke-width="0.6"/>
<line x1="437.10" y1="262.20" x2="437.10" y2="264.60" stroke="#231f20" stroke-width="0.9"/>
<line x1="447.50" y1="262.20" x2="447.50" y2="264.60" stroke="#231f20" stroke-width="0.9"/>
<line x1="467.20" y1="262.20" x2="467.20" y2="264.60" stroke="#231f20" stroke-width="0.9"/>
<line x1="486.20" y1="262.20" x2="486.20" y2="264.60" stroke="#231f20" stroke-width="0.9"/>
<line x1="505.30" y1="262.20" x2="505.30" y2="264.60" stroke="#231f20" stroke-width="0.9"/>
<line x1="453.43" y1="262.20" x2="453.43" y2="263.80" stroke="#231f20" stroke-width="0.6"/>
<line x1="456.90" y1="262.20" x2="456.90" y2="263.80" stroke="#231f20" stroke-width="0.6"/>
<line x1="459.36" y1="262.20" x2="459.36" y2="263.80" stroke="#231f20" stroke-width="0.6"/>
<line x1="461.27" y1="262.20" x2="461.27" y2="263.80" stroke="#231f20" stroke-width="0.6"/>
<line x1="462.83" y1="262.20" x2="462.83" y2="263.80" stroke="#231f20" stroke-width="0.6"/>
<line x1="464.15" y1="262.20" x2="464.15" y2="263.80" stroke="#231f20" stroke-width="0.6"/>
<line x1="465.29" y1="262.20" x2="465.29" y2="263.80" stroke="#231f20" stroke-width="0.6"/>
<line x1="466.30" y1="262.20" x2="466.30" y2="263.80" stroke="#231f20" stroke-width="0.6"/>
<line x1="472.92" y1="262.20" x2="472.92" y2="263.80" stroke="#231f20" stroke-width="0.6"/>
<line x1="476.27" y1="262.20" x2="476.27" y2="263.80" stroke="#231f20" stroke-width="0.6"/>
<line x1="478.64" y1="262.20" x2="478.64" y2="263.80" stroke="#231f20" stroke-width="0.6"/>
<line x1="480.48" y1="262.20" x2="480.48" y2="263.80" stroke="#231f20" stroke-width="0.6"/>
<line x1="481.98" y1="262.20" x2="481.98" y2="263.80" stroke="#231f20" stroke-width="0.6"/>
<line x1="483.26" y1="262.20" x2="483.26" y2="263.80" stroke="#231f20" stroke-width="0.6"/>
<line x1="484.36" y1="262.20" x2="484.36" y2="263.80" stroke="#231f20" stroke-width="0.6"/>
<line x1="485.33" y1="262.20" x2="485.33" y2="263.80" stroke="#231f20" stroke-width="0.6"/>
<line x1="491.95" y1="262.20" x2="491.95" y2="263.80" stroke="#231f20" stroke-width="0.6"/>
<line x1="495.31" y1="262.20" x2="495.31" y2="263.80" stroke="#231f20" stroke-width="0.6"/>
<line x1="497.70" y1="262.20" x2="497.70" y2="263.80" stroke="#231f20" stroke-width="0.6"/>
<line x1="499.55" y1="262.20" x2="499.55" y2="263.80" stroke="#231f20" stroke-width="0.6"/>
<line x1="501.06" y1="262.20" x2="501.06" y2="263.80" stroke="#231f20" stroke-width="0.6"/>
<line x1="502.34" y1="262.20" x2="502.34" y2="263.80" stroke="#231f20" stroke-width="0.6"/>
<line x1="503.45" y1="262.20" x2="503.45" y2="263.80" stroke="#231f20" stroke-width="0.6"/>
<line x1="504.43" y1="262.20" x2="504.43" y2="263.80" stroke="#231f20" stroke-width="0.6"/>
<text x="437.10" y="275.20" font-size="8.2" text-anchor="middle" stroke="#231f20" stroke-width="0.1">0</text>
<text x="441.70" y="275.20" font-size="8.2" stroke="#231f20" stroke-width="0.1">10<tspan font-size="5.8" dy="-3.4">2</tspan></text>
<text x="461.10" y="275.20" font-size="8.2" stroke="#231f20" stroke-width="0.1">10<tspan font-size="5.8" dy="-3.4">3</tspan></text>
<text x="480.20" y="275.20" font-size="8.2" stroke="#231f20" stroke-width="0.1">10<tspan font-size="5.8" dy="-3.4">4</tspan></text>
<text x="499.30" y="275.20" font-size="8.2" stroke="#231f20" stroke-width="0.1">10<tspan font-size="5.8" dy="-3.4">5</tspan></text>
<text x="438.30" y="191.00" font-size="8.4" fill="#c8203a" textLength="21.00" lengthAdjust="spacingAndGlyphs" stroke="#c8203a" stroke-width="0.1">CD71<tspan font-size="5.5" dy="-3.2">+</tspan></text>
<text x="433.00" y="199.80" font-size="8.4" fill="#c8203a" textLength="34.70" lengthAdjust="spacingAndGlyphs" stroke="#c8203a" stroke-width="0.1">HSC/MPP</text>
<text x="440.20" y="244.10" font-size="8.4" fill="#2a5f9a" textLength="22.90" lengthAdjust="spacingAndGlyphs" stroke="#2a5f9a" stroke-width="0.1">CD71<tspan font-size="5.5" dy="-3.2">−</tspan></text>
<text x="434.40" y="253.00" font-size="8.4" fill="#2a5f9a" textLength="34.10" lengthAdjust="spacingAndGlyphs" stroke="#2a5f9a" stroke-width="0.1">HSC/MPP</text>
<text x="402.40" y="278.70" font-size="9" textLength="33.70" lengthAdjust="spacingAndGlyphs" transform="rotate(-90 402.40 278.70)" stroke="#231f20" stroke-width="0.1">CD71 FITC</text>
<text x="409.00" y="290.80" font-size="9" textLength="47.00" lengthAdjust="spacingAndGlyphs" stroke="#231f20" stroke-width="0.1">CD34 APC-Cy7</text>
<text x="7.30" y="324.80" font-size="11.3" font-weight="bold" fill="#000" stroke="#000" stroke-width="0.45" textLength="6.40" lengthAdjust="spacingAndGlyphs">F</text>
<line x1="35.10" y1="329.50" x2="35.10" y2="442.20" stroke="#231f20" stroke-width="1.35"/>
<line x1="33.00" y1="441.70" x2="91.70" y2="441.70" stroke="#231f20" stroke-width="1.35"/>
<line x1="32.00" y1="441.40" x2="35.10" y2="441.40" stroke="#231f20" stroke-width="0.9"/>
<line x1="32.00" y1="430.57" x2="35.10" y2="430.57" stroke="#231f20" stroke-width="0.9"/>
<line x1="32.00" y1="419.74" x2="35.10" y2="419.74" stroke="#231f20" stroke-width="0.9"/>
<line x1="32.00" y1="408.91" x2="35.10" y2="408.91" stroke="#231f20" stroke-width="0.9"/>
<line x1="32.00" y1="398.08" x2="35.10" y2="398.08" stroke="#231f20" stroke-width="0.9"/>
<line x1="32.00" y1="387.25" x2="35.10" y2="387.25" stroke="#231f20" stroke-width="0.9"/>
<line x1="32.00" y1="376.42" x2="35.10" y2="376.42" stroke="#231f20" stroke-width="0.9"/>
<line x1="32.00" y1="365.59" x2="35.10" y2="365.59" stroke="#231f20" stroke-width="0.9"/>
<line x1="32.00" y1="354.76" x2="35.10" y2="354.76" stroke="#231f20" stroke-width="0.9"/>
<line x1="32.00" y1="343.93" x2="35.10" y2="343.93" stroke="#231f20" stroke-width="0.9"/>
<line x1="32.00" y1="333.10" x2="35.10" y2="333.10" stroke="#231f20" stroke-width="0.9"/>
<text x="28.20" y="335.80" font-size="7.9" text-anchor="end" textLength="11.85" lengthAdjust="spacingAndGlyphs" stroke="#231f20" stroke-width="0.1">100</text>
<text x="28.20" y="357.46" font-size="7.9" text-anchor="end" textLength="7.90" lengthAdjust="spacingAndGlyphs" stroke="#231f20" stroke-width="0.1">80</text>
<text x="28.20" y="379.12" font-size="7.9" text-anchor="end" textLength="7.90" lengthAdjust="spacingAndGlyphs" stroke="#231f20" stroke-width="0.1">60</text>
<text x="28.20" y="400.78" font-size="7.9" text-anchor="end" textLength="7.90" lengthAdjust="spacingAndGlyphs" stroke="#231f20" stroke-width="0.1">40</text>
<text x="28.20" y="422.44" font-size="7.9" text-anchor="end" textLength="7.90" lengthAdjust="spacingAndGlyphs" stroke="#231f20" stroke-width="0.1">20</text>
<text x="28.20" y="444.10" font-size="7.9" text-anchor="end" textLength="3.95" lengthAdjust="spacingAndGlyphs" stroke="#231f20" stroke-width="0.1">0</text>
<line x1="50.80" y1="441.70" x2="50.80" y2="444.60" stroke="#231f20" stroke-width="1"/>
<line x1="76.50" y1="441.70" x2="76.50" y2="444.60" stroke="#231f20" stroke-width="1"/>
<text x="12.80" y="405.20" font-size="9" textLength="41.60" lengthAdjust="spacingAndGlyphs" transform="rotate(-90 12.80 405.20)" stroke="#231f20" stroke-width="0.1">Colonies [%]</text>
<rect x="42.00" y="420.00" width="17.90" height="21.20" fill="#ff2500"/>
<rect x="42.00" y="416.90" width="17.90" height="3.10" fill="#ffd98a"/>
<rect x="42.00" y="392.10" width="17.90" height="24.80" fill="#d98cff"/>
<rect x="42.00" y="391.00" width="17.90" height="1.10" fill="#c42ed6"/>
<rect x="42.00" y="389.80" width="17.90" height="1.20" fill="#8c1450"/>
<rect x="42.00" y="350.90" width="17.90" height="38.90" fill="#0b8a0b"/>
<rect x="42.00" y="341.80" width="17.90" height="9.10" fill="#178c96"/>
<rect x="42.00" y="333.10" width="17.90" height="8.70" fill="#000000"/>
<rect x="67.70" y="363.40" width="18.10" height="77.80" fill="#ff2500"/>
<rect x="67.70" y="360.30" width="18.10" height="3.10" fill="#ffd98a"/>
<rect x="67.70" y="345.10" width="18.10" height="15.20" fill="#ff8c00"/>
<rect x="67.70" y="340.60" width="18.10" height="4.50" fill="#d98cff"/>
<rect x="67.70" y="339.60" width="18.10" height="1.00" fill="#c42ed6"/>
<rect x="67.70" y="336.00" width="18.10" height="3.60" fill="#0b8a0b"/>
<rect x="67.70" y="333.10" width="18.10" height="2.90" fill="#000000"/>
<line x1="51.00" y1="328.40" x2="51.00" y2="333.50" stroke="#231f20" stroke-width="1.0"/>
<line x1="48.80" y1="328.40" x2="53.20" y2="328.40" stroke="#231f20" stroke-width="1.0"/>
<line x1="51.00" y1="341.80" x2="51.00" y2="350.90" stroke="#231f20" stroke-width="1.1"/>
<line x1="51.00" y1="380.70" x2="51.00" y2="391.20" stroke="#231f20" stroke-width="1.0"/>
<line x1="48.80" y1="380.70" x2="53.20" y2="380.70" stroke="#231f20" stroke-width="1.0"/>
<line x1="48.80" y1="386.70" x2="53.20" y2="386.70" stroke="#231f20" stroke-width="1.0"/>
<line x1="51.00" y1="408.30" x2="51.00" y2="418.60" stroke="#231f20" stroke-width="1.0"/>
<line x1="48.80" y1="408.30" x2="53.20" y2="408.30" stroke="#231f20" stroke-width="1.0"/>
<line x1="48.80" y1="413.10" x2="53.20" y2="413.10" stroke="#231f20" stroke-width="1.0"/>
<line x1="48.80" y1="418.60" x2="53.20" y2="418.60" stroke="#231f20" stroke-width="1.0"/>
<line x1="76.70" y1="327.20" x2="76.70" y2="363.20" stroke="#231f20" stroke-width="1.0"/>
<line x1="74.50" y1="327.20" x2="78.90" y2="327.20" stroke="#231f20" stroke-width="1.0"/>
<line x1="74.50" y1="330.50" x2="78.90" y2="330.50" stroke="#231f20" stroke-width="1.0"/>
<line x1="74.50" y1="338.30" x2="78.90" y2="338.30" stroke="#231f20" stroke-width="1.0"/>
<line x1="74.50" y1="343.50" x2="78.90" y2="343.50" stroke="#231f20" stroke-width="1.0"/>
<line x1="74.50" y1="354.20" x2="78.90" y2="354.20" stroke="#231f20" stroke-width="1.0"/>
<line x1="63.30" y1="441.20" x2="63.30" y2="392.50" stroke="#ff2a1a" stroke-width="1.3"/>
<polygon points="63.30,388.70 60.20,393.80 66.40,393.80" fill="#ff2a1a"/>
<line x1="89.30" y1="441.20" x2="89.30" y2="345.00" stroke="#ff2a1a" stroke-width="1.3"/>
<polygon points="89.30,341.00 86.20,346.10 92.40,346.10" fill="#ff2a1a"/>
<text x="32.40" y="459.50" font-size="8.1" text-anchor="middle" transform="rotate(-45 32.40 459.50)" stroke="#231f20" stroke-width="0.1">CD71<tspan font-size="5" dy="-3">−</tspan></text>
<text x="41.00" y="463.70" font-size="8.1" text-anchor="middle" textLength="36.40" lengthAdjust="spacingAndGlyphs" transform="rotate(-45 41.00 463.70)" stroke="#231f20" stroke-width="0.1">HSC/MPP</text>
<text x="67.40" y="459.50" font-size="8.1" text-anchor="middle" transform="rotate(-45 67.40 459.50)" stroke="#231f20" stroke-width="0.1">CD71<tspan font-size="5" dy="-3">+</tspan></text>
<text x="76.00" y="463.70" font-size="8.1" text-anchor="middle" textLength="36.40" lengthAdjust="spacingAndGlyphs" transform="rotate(-45 76.00 463.70)" stroke="#231f20" stroke-width="0.1">HSC/MPP</text>
<rect x="136.20" y="333.75" width="9.10" height="5.10" fill="#000000"/>
<text x="148.70" y="339.10" font-size="8.1" textLength="20.40" lengthAdjust="spacingAndGlyphs" stroke="#231f20" stroke-width="0.1">Undiff</text>
<rect x="136.70" y="344.59" width="8.10" height="4.20" fill="#fff" stroke="#231f20" stroke-width="0.9"/>
<text x="148.70" y="349.49" font-size="8.1" textLength="46.50" lengthAdjust="spacingAndGlyphs" stroke="#231f20" stroke-width="0.1">EryMegMyNK</text>
<rect x="136.20" y="354.53" width="9.10" height="5.10" fill="#1e90ff"/>
<text x="148.70" y="359.88" font-size="8.1" textLength="10.40" lengthAdjust="spacingAndGlyphs" stroke="#231f20" stroke-width="0.1">NK</text>
<rect x="136.20" y="364.92" width="9.10" height="5.10" fill="#178c96"/>
<text x="148.70" y="370.27" font-size="8.1" textLength="20.40" lengthAdjust="spacingAndGlyphs" stroke="#231f20" stroke-width="0.1">MyNK</text>
<rect x="136.20" y="375.31" width="9.10" height="5.10" fill="#0b8a0b"/>
<text x="148.70" y="380.66" font-size="8.1" textLength="10.20" lengthAdjust="spacingAndGlyphs" stroke="#231f20" stroke-width="0.1">My</text>
<rect x="136.20" y="385.70" width="9.10" height="5.10" fill="#8c1450"/>
<text x="148.70" y="391.05" font-size="8.1" textLength="31.00" lengthAdjust="spacingAndGlyphs" stroke="#231f20" stroke-width="0.1">EryMyNK</text>
<rect x="136.20" y="396.09" width="9.10" height="5.10" fill="#c42ed6"/>
<text x="148.70" y="401.44" font-size="8.1" textLength="35.70" lengthAdjust="spacingAndGlyphs" stroke="#231f20" stroke-width="0.1">EryMegMy</text>
<rect x="136.20" y="406.48" width="9.10" height="5.10" fill="#d98cff"/>
<text x="148.70" y="411.83" font-size="8.1" textLength="20.80" lengthAdjust="spacingAndGlyphs" stroke="#231f20" stroke-width="0.1">EryMy</text>
<rect x="136.20" y="416.87" width="9.10" height="5.10" fill="#ff8c00"/>
<text x="148.70" y="422.22" font-size="8.1" textLength="25.50" lengthAdjust="spacingAndGlyphs" stroke="#231f20" stroke-width="0.1">EryMeg</text>
<rect x="136.20" y="427.26" width="9.10" height="5.10" fill="#ffd98a"/>
<text x="148.70" y="432.61" font-size="8.1" textLength="14.70" lengthAdjust="spacingAndGlyphs" stroke="#231f20" stroke-width="0.1">Meg</text>
<rect x="136.20" y="437.65" width="9.10" height="5.10" fill="#ff2500"/>
<text x="148.70" y="443.00" font-size="8.1" textLength="10.40" lengthAdjust="spacingAndGlyphs" stroke="#231f20" stroke-width="0.1">Ery</text>
<text x="97.30" y="339.10" font-size="8.1" textLength="33.70" lengthAdjust="spacingAndGlyphs" stroke="#231f20" stroke-width="0.1">p&lt;0.0001</text>
<text x="97.30" y="370.27" font-size="8.1" textLength="33.70" lengthAdjust="spacingAndGlyphs" stroke="#231f20" stroke-width="0.1">p&lt;0.0001</text>
<text x="97.30" y="380.66" font-size="8.1" textLength="33.70" lengthAdjust="spacingAndGlyphs" stroke="#231f20" stroke-width="0.1">p&lt;0.0001</text>
<text x="97.30" y="411.83" font-size="8.1" textLength="33.70" lengthAdjust="spacingAndGlyphs" stroke="#231f20" stroke-width="0.1">p&lt;0.0001</text>
<text x="97.30" y="422.22" font-size="8.1" textLength="33.70" lengthAdjust="spacingAndGlyphs" stroke="#231f20" stroke-width="0.1">p=0.0049</text>
<text x="97.30" y="432.61" font-size="8.1" textLength="33.70" lengthAdjust="spacingAndGlyphs" stroke="#231f20" stroke-width="0.1">p=0.0061</text>
<text x="97.30" y="443.00" font-size="8.1" textLength="33.70" lengthAdjust="spacingAndGlyphs" stroke="#231f20" stroke-width="0.1">p&lt;0.0001</text>
<text x="233.70" y="324.90" font-size="11.3" font-weight="bold" fill="#000" stroke="#000" stroke-width="0.45" textLength="8.10" lengthAdjust="spacingAndGlyphs">G</text>
<text x="280.80" y="324.00" font-size="9.8" textLength="44.00" lengthAdjust="spacingAndGlyphs" stroke="#231f20" stroke-width="0.1">1st plating</text>
<line x1="270.10" y1="328.20" x2="270.10" y2="441.90" stroke="#231f20" stroke-width="1.4"/>
<line x1="269.60" y1="441.50" x2="334.70" y2="441.50" stroke="#231f20" stroke-width="1.4"/>
<line x1="266.90" y1="441.20" x2="270.10" y2="441.20" stroke="#231f20" stroke-width="0.9"/>
<line x1="266.90" y1="430.35" x2="270.10" y2="430.35" stroke="#231f20" stroke-width="0.9"/>
<line x1="266.90" y1="419.50" x2="270.10" y2="419.50" stroke="#231f20" stroke-width="0.9"/>
<line x1="266.90" y1="408.65" x2="270.10" y2="408.65" stroke="#231f20" stroke-width="0.9"/>
<line x1="266.90" y1="397.80" x2="270.10" y2="397.80" stroke="#231f20" stroke-width="0.9"/>
<line x1="266.90" y1="386.95" x2="270.10" y2="386.95" stroke="#231f20" stroke-width="0.9"/>
<line x1="266.90" y1="376.10" x2="270.10" y2="376.10" stroke="#231f20" stroke-width="0.9"/>
<line x1="266.90" y1="365.25" x2="270.10" y2="365.25" stroke="#231f20" stroke-width="0.9"/>
<line x1="266.90" y1="354.40" x2="270.10" y2="354.40" stroke="#231f20" stroke-width="0.9"/>
<line x1="266.90" y1="343.55" x2="270.10" y2="343.55" stroke="#231f20" stroke-width="0.9"/>
<line x1="266.90" y1="332.70" x2="270.10" y2="332.70" stroke="#231f20" stroke-width="0.9"/>
<text x="263.80" y="335.50" font-size="8.1" text-anchor="end" textLength="15.60" lengthAdjust="spacingAndGlyphs" stroke="#231f20" stroke-width="0.1">1000</text>
<text x="263.80" y="389.75" font-size="8.1" text-anchor="end" textLength="11.70" lengthAdjust="spacingAndGlyphs" stroke="#231f20" stroke-width="0.1">500</text>
<text x="263.80" y="444.00" font-size="8.1" text-anchor="end" textLength="3.90" lengthAdjust="spacingAndGlyphs" stroke="#231f20" stroke-width="0.1">0</text>
<line x1="283.40" y1="441.50" x2="283.40" y2="444.40" stroke="#231f20" stroke-width="1"/>
<line x1="303.60" y1="441.50" x2="303.60" y2="444.40" stroke="#231f20" stroke-width="1"/>
<line x1="323.60" y1="441.50" x2="323.60" y2="444.40" stroke="#231f20" stroke-width="1"/>
<text x="243.00" y="422.10" font-size="9" textLength="69.80" lengthAdjust="spacingAndGlyphs" transform="rotate(-90 243.00 422.10)" stroke="#231f20" stroke-width="0.1">Colonies / 2000 cells</text>
<rect x="276.30" y="413.32" width="14.40" height="27.88" fill="#3cbe2a"/>
<rect x="276.30" y="404.31" width="14.40" height="9.01" fill="#b41e00"/>
<rect x="276.30" y="403.66" width="14.40" height="0.65" fill="#ffc68c"/>
<rect x="296.60" y="430.89" width="14.40" height="10.31" fill="#3cbe2a"/>
<rect x="296.60" y="411.90" width="14.40" height="18.99" fill="#b41e00"/>
<rect x="296.60" y="408.65" width="14.40" height="3.25" fill="#ffc68c"/>
<rect x="316.70" y="439.25" width="14.20" height="1.95" fill="#3cbe2a"/>
<rect x="316.70" y="387.28" width="14.20" height="51.97" fill="#b41e00"/>
<rect x="316.70" y="384.78" width="14.20" height="2.50" fill="#ffc68c"/>
<line x1="283.50" y1="402.30" x2="283.50" y2="404.30" stroke="#231f20" stroke-width="1.0"/>
<line x1="281.50" y1="402.30" x2="285.50" y2="402.30" stroke="#231f20" stroke-width="1.0"/>
<line x1="283.50" y1="410.50" x2="283.50" y2="413.30" stroke="#231f20" stroke-width="1.0"/>
<line x1="281.50" y1="410.50" x2="285.50" y2="410.50" stroke="#231f20" stroke-width="1.0"/>
<line x1="303.80" y1="406.30" x2="303.80" y2="412.00" stroke="#231f20" stroke-width="1.0"/>
<line x1="301.80" y1="406.30" x2="305.80" y2="406.30" stroke="#231f20" stroke-width="1.0"/>
<line x1="301.80" y1="408.60" x2="305.80" y2="408.60" stroke="#231f20" stroke-width="1.0"/>
<line x1="303.80" y1="425.50" x2="303.80" y2="431.20" stroke="#231f20" stroke-width="1.0"/>
<line x1="301.80" y1="425.50" x2="305.80" y2="425.50" stroke="#231f20" stroke-width="1.0"/>
<line x1="323.80" y1="381.90" x2="323.80" y2="387.80" stroke="#231f20" stroke-width="1.0"/>
<line x1="321.80" y1="381.90" x2="325.80" y2="381.90" stroke="#231f20" stroke-width="1.0"/>
<line x1="323.80" y1="438.50" x2="323.80" y2="439.50" stroke="#231f20" stroke-width="1.0"/>
<line x1="321.80" y1="438.50" x2="325.80" y2="438.50" stroke="#231f20" stroke-width="1.0"/>
<polyline points="282.90,363.30 282.90,359.70 303.60,359.70 303.60,363.30" fill="none" stroke="#231f20" stroke-width="0.9"/>
<text x="293.30" y="355.50" font-size="8.1" text-anchor="middle" textLength="20.50" lengthAdjust="spacingAndGlyphs" stroke="#231f20" stroke-width="0.1">p=0.3</text>
<text x="287.50" y="368.30" font-size="7" text-anchor="middle" fill="#ffb070" stroke="#ffb070" stroke-width="0.1">*</text>
<text x="290.30" y="368.20" font-size="8.5" text-anchor="middle" stroke="#231f20" stroke-width="0.1">/</text>
<text x="293.20" y="368.30" font-size="7" text-anchor="middle" fill="#e02020" stroke="#e02020" stroke-width="0.1">*</text>
<text x="296.20" y="368.20" font-size="8.5" text-anchor="middle" stroke="#231f20" stroke-width="0.1">/</text>
<text x="300.20" y="368.30" font-size="7" text-anchor="middle" fill="#22cc22" stroke="#22cc22" stroke-width="0.1">**</text>
<polyline points="303.60,344.90 303.60,341.30 324.10,341.30 324.10,344.90" fill="none" stroke="#231f20" stroke-width="0.9"/>
<text x="314.20" y="337.50" font-size="8.1" text-anchor="middle" textLength="24.00" lengthAdjust="spacingAndGlyphs" stroke="#231f20" stroke-width="0.1">p=0.04</text>
<text x="314.20" y="349.50" font-size="7" text-anchor="middle" fill="#e02020" stroke="#e02020" stroke-width="0.1">**</text>
<text x="415.00" y="324.20" font-size="9.8" textLength="48.50" lengthAdjust="spacingAndGlyphs" stroke="#231f20" stroke-width="0.1">2nd plating</text>
<line x1="406.90" y1="328.20" x2="406.90" y2="442.40" stroke="#231f20" stroke-width="1.4"/>
<line x1="406.40" y1="441.90" x2="472.50" y2="441.90" stroke="#231f20" stroke-width="1.4"/>
<line x1="403.70" y1="441.90" x2="406.90" y2="441.90" stroke="#231f20" stroke-width="0.9"/>
<line x1="403.70" y1="434.63" x2="406.90" y2="434.63" stroke="#231f20" stroke-width="0.9"/>
<line x1="403.70" y1="427.37" x2="406.90" y2="427.37" stroke="#231f20" stroke-width="0.9"/>
<line x1="403.70" y1="420.10" x2="406.90" y2="420.10" stroke="#231f20" stroke-width="0.9"/>
<line x1="403.70" y1="412.84" x2="406.90" y2="412.84" stroke="#231f20" stroke-width="0.9"/>
<line x1="403.70" y1="405.57" x2="406.90" y2="405.57" stroke="#231f20" stroke-width="0.9"/>
<line x1="403.70" y1="398.30" x2="406.90" y2="398.30" stroke="#231f20" stroke-width="0.9"/>
<line x1="403.70" y1="391.04" x2="406.90" y2="391.04" stroke="#231f20" stroke-width="0.9"/>
<line x1="403.70" y1="383.77" x2="406.90" y2="383.77" stroke="#231f20" stroke-width="0.9"/>
<line x1="403.70" y1="376.51" x2="406.90" y2="376.51" stroke="#231f20" stroke-width="0.9"/>
<line x1="403.70" y1="369.24" x2="406.90" y2="369.24" stroke="#231f20" stroke-width="0.9"/>
<line x1="403.70" y1="361.97" x2="406.90" y2="361.97" stroke="#231f20" stroke-width="0.9"/>
<line x1="403.70" y1="354.71" x2="406.90" y2="354.71" stroke="#231f20" stroke-width="0.9"/>
<line x1="403.70" y1="347.44" x2="406.90" y2="347.44" stroke="#231f20" stroke-width="0.9"/>
<line x1="403.70" y1="340.18" x2="406.90" y2="340.18" stroke="#231f20" stroke-width="0.9"/>
<line x1="403.70" y1="332.91" x2="406.90" y2="332.91" stroke="#231f20" stroke-width="0.9"/>
<text x="400.60" y="335.71" font-size="8.1" text-anchor="end" textLength="12.30" lengthAdjust="spacingAndGlyphs" stroke="#231f20" stroke-width="0.1">300</text>
<text x="400.60" y="372.04" font-size="8.1" text-anchor="end" textLength="12.30" lengthAdjust="spacingAndGlyphs" stroke="#231f20" stroke-width="0.1">200</text>
<text x="400.60" y="408.37" font-size="8.1" text-anchor="end" textLength="12.30" lengthAdjust="spacingAndGlyphs" stroke="#231f20" stroke-width="0.1">100</text>
<text x="400.60" y="444.70" font-size="8.1" text-anchor="end" textLength="4.10" lengthAdjust="spacingAndGlyphs" stroke="#231f20" stroke-width="0.1">0</text>
<line x1="420.20" y1="441.90" x2="420.20" y2="444.80" stroke="#231f20" stroke-width="1"/>
<line x1="440.60" y1="441.90" x2="440.60" y2="444.80" stroke="#231f20" stroke-width="1"/>
<line x1="460.60" y1="441.90" x2="460.60" y2="444.80" stroke="#231f20" stroke-width="1"/>
<text x="381.60" y="422.30" font-size="9" textLength="74.00" lengthAdjust="spacingAndGlyphs" transform="rotate(-90 381.60 422.30)" stroke="#231f20" stroke-width="0.1">Colonies / 20000 cells</text>
<rect x="412.80" y="388.13" width="14.90" height="53.77" fill="#3cbe2a"/>
<rect x="412.80" y="382.68" width="14.90" height="5.45" fill="#b41e00"/>
<rect x="412.80" y="376.14" width="14.90" height="6.54" fill="#ffc68c"/>
<rect x="433.30" y="431.00" width="14.60" height="10.90" fill="#3cbe2a"/>
<rect x="433.30" y="427.37" width="14.60" height="3.63" fill="#b41e00"/>
<rect x="433.30" y="417.92" width="14.60" height="9.45" fill="#ffc68c"/>
<rect x="453.20" y="437.54" width="14.80" height="4.36" fill="#ffc68c"/>
<line x1="420.20" y1="373.80" x2="420.20" y2="386.00" stroke="#231f20" stroke-width="1.0"/>
<line x1="418.20" y1="373.80" x2="422.20" y2="373.80" stroke="#231f20" stroke-width="1.0"/>
<line x1="418.20" y1="376.60" x2="422.20" y2="376.60" stroke="#231f20" stroke-width="1.0"/>
<line x1="418.20" y1="382.50" x2="422.20" y2="382.50" stroke="#231f20" stroke-width="1.0"/>
<line x1="440.60" y1="412.30" x2="440.60" y2="428.00" stroke="#231f20" stroke-width="1.0"/>
<line x1="438.60" y1="412.30" x2="442.60" y2="412.30" stroke="#231f20" stroke-width="1.0"/>
<line x1="438.60" y1="419.50" x2="442.60" y2="419.50" stroke="#231f20" stroke-width="1.0"/>
<line x1="438.60" y1="421.50" x2="442.60" y2="421.50" stroke="#231f20" stroke-width="1.0"/>
<line x1="460.60" y1="435.20" x2="460.60" y2="441.50" stroke="#231f20" stroke-width="1.0"/>
<line x1="458.60" y1="435.20" x2="462.60" y2="435.20" stroke="#231f20" stroke-width="1.0"/>
<polyline points="420.90,344.60 420.90,341.00 441.40,341.00 441.40,344.60" fill="none" stroke="#231f20" stroke-width="0.9"/>
<text x="430.60" y="336.90" font-size="8.1" text-anchor="middle" textLength="24.00" lengthAdjust="spacingAndGlyphs" stroke="#231f20" stroke-width="0.1">p=0.02</text>
<text x="430.60" y="349.20" font-size="7" text-anchor="middle" fill="#22cc22" stroke="#22cc22" stroke-width="0.1">*</text>
<polyline points="442.70,362.90 442.70,359.30 463.50,359.30 463.50,362.90" fill="none" stroke="#231f20" stroke-width="0.9"/>
<text x="453.20" y="355.20" font-size="8.1" text-anchor="middle" textLength="24.00" lengthAdjust="spacingAndGlyphs" stroke="#231f20" stroke-width="0.1">p=0.02</text>
<text x="453.20" y="368.10" font-size="7" text-anchor="middle" fill="#22cc22" stroke="#22cc22" stroke-width="0.1">*</text>
<text x="479.80" y="386.20" font-size="9" text-anchor="middle" stroke="#231f20" stroke-width="0.1">*</text>
<text x="488.00" y="382.60" font-size="8.1" textLength="23.30" lengthAdjust="spacingAndGlyphs" stroke="#231f20" stroke-width="0.1">p&lt;0.05</text>
<text x="480.50" y="396.60" font-size="9" text-anchor="middle" stroke="#231f20" stroke-width="0.1">**</text>
<text x="488.00" y="393.00" font-size="8.1" textLength="23.30" lengthAdjust="spacingAndGlyphs" stroke="#231f20" stroke-width="0.1">p&lt;0.01</text>
<rect x="477.90" y="406.80" width="8.60" height="4.90" fill="#1846ff"/>
<text x="489.80" y="411.80" font-size="8.1" textLength="23.30" lengthAdjust="spacingAndGlyphs" stroke="#231f20" stroke-width="0.1">GEMM</text>
<rect x="477.90" y="417.20" width="8.60" height="4.90" fill="#ffc68c"/>
<text x="489.80" y="422.20" font-size="8.1" textLength="21.00" lengthAdjust="spacingAndGlyphs" stroke="#231f20" stroke-width="0.1">CFU-E</text>
<rect x="477.90" y="427.60" width="8.60" height="4.90" fill="#b41e00"/>
<text x="489.80" y="432.60" font-size="8.1" textLength="20.40" lengthAdjust="spacingAndGlyphs" stroke="#231f20" stroke-width="0.1">BFU-E</text>
<rect x="477.90" y="438.00" width="8.60" height="4.90" fill="#3cbe2a"/>
<text x="489.80" y="443.00" font-size="8.1" textLength="21.60" lengthAdjust="spacingAndGlyphs" stroke="#231f20" stroke-width="0.1">GM/M</text>
<text x="268.20" y="459.50" font-size="8.1" text-anchor="middle" transform="rotate(-45 268.20 459.50)" stroke="#231f20" stroke-width="0.1">CD71<tspan font-size="5" dy="-3">−</tspan></text>
<text x="276.80" y="463.70" font-size="8.1" text-anchor="middle" textLength="36.40" lengthAdjust="spacingAndGlyphs" transform="rotate(-45 276.80 463.70)" stroke="#231f20" stroke-width="0.1">HSC/MPP</text>
<text x="294.40" y="459.50" font-size="8.1" text-anchor="middle" transform="rotate(-45 294.40 459.50)" stroke="#231f20" stroke-width="0.1">CD71<tspan font-size="5" dy="-3">+</tspan></text>
<text x="303.00" y="463.70" font-size="8.1" text-anchor="middle" textLength="36.40" lengthAdjust="spacingAndGlyphs" transform="rotate(-45 303.00 463.70)" stroke="#231f20" stroke-width="0.1">HSC/MPP</text>
<text x="321.20" y="460.40" font-size="8.1" text-anchor="middle" textLength="24.00" lengthAdjust="spacingAndGlyphs" transform="rotate(-45 321.20 460.40)" stroke="#231f20" stroke-width="0.1">E-MEP</text>
<text x="7.10" y="503.40" font-size="11.3" font-weight="bold" fill="#000" stroke="#000" stroke-width="0.45" textLength="6.90" lengthAdjust="spacingAndGlyphs">H</text>
<rect x="31.25" y="560.30" width="30.65" height="15.20" fill="#bccfe1"/>
<rect x="32.65" y="561.70" width="27.85" height="12.40" fill="none" stroke="#dde8f2" stroke-width="0.8"/>
<rect x="61.90" y="560.30" width="30.50" height="15.20" fill="#f2b9c6"/>
<rect x="63.30" y="561.70" width="27.70" height="12.40" fill="none" stroke="#fbe0e6" stroke-width="0.8"/>
<rect x="92.40" y="560.30" width="30.70" height="15.20" fill="#ffffff"/>
<rect x="93.80" y="561.70" width="27.90" height="12.40" fill="none" stroke="#ffffff" stroke-width="0.8"/>
<rect x="31.25" y="575.50" width="30.65" height="15.70" fill="#bccfe1"/>
<rect x="32.65" y="576.90" width="27.85" height="12.90" fill="none" stroke="#dde8f2" stroke-width="0.8"/>
<rect x="61.90" y="575.50" width="30.50" height="15.70" fill="#f2b9c6"/>
<rect x="63.30" y="576.90" width="27.70" height="12.90" fill="none" stroke="#fbe0e6" stroke-width="0.8"/>
<rect x="92.40" y="575.50" width="30.70" height="15.70" fill="#ffffff"/>
<rect x="93.80" y="576.90" width="27.90" height="12.90" fill="none" stroke="#ffffff" stroke-width="0.8"/>
<rect x="31.25" y="591.20" width="30.65" height="15.10" fill="#bccfe1"/>
<rect x="32.65" y="592.60" width="27.85" height="12.30" fill="none" stroke="#dde8f2" stroke-width="0.8"/>
<rect x="61.90" y="591.20" width="30.50" height="15.10" fill="#f2b9c6"/>
<rect x="63.30" y="592.60" width="27.70" height="12.30" fill="none" stroke="#fbe0e6" stroke-width="0.8"/>
<rect x="92.40" y="591.20" width="30.70" height="15.10" fill="#ffffff"/>
<rect x="93.80" y="592.60" width="27.90" height="12.30" fill="none" stroke="#ffffff" stroke-width="0.8"/>
<rect x="31.25" y="606.30" width="30.65" height="14.90" fill="#bccfe1"/>
<rect x="32.65" y="607.70" width="27.85" height="12.10" fill="none" stroke="#dde8f2" stroke-width="0.8"/>
<rect x="61.90" y="606.30" width="30.50" height="14.90" fill="#f2b9c6"/>
<rect x="63.30" y="607.70" width="27.70" height="12.10" fill="none" stroke="#fbe0e6" stroke-width="0.8"/>
<rect x="92.40" y="606.30" width="30.70" height="14.90" fill="#ffffff"/>
<rect x="93.80" y="607.70" width="27.90" height="12.10" fill="none" stroke="#ffffff" stroke-width="0.8"/>
<line x1="31.25" y1="559.60" x2="31.25" y2="621.90" stroke="#111" stroke-width="1.4"/>
<line x1="61.90" y1="559.60" x2="61.90" y2="621.90" stroke="#111" stroke-width="1.4"/>
<line x1="92.40" y1="559.60" x2="92.40" y2="621.90" stroke="#111" stroke-width="1.4"/>
<line x1="123.10" y1="559.60" x2="123.10" y2="621.90" stroke="#111" stroke-width="1.4"/>
<line x1="31.25" y1="560.30" x2="123.10" y2="560.30" stroke="#111" stroke-width="1.4"/>
<line x1="31.25" y1="575.50" x2="123.10" y2="575.50" stroke="#111" stroke-width="1.4"/>
<line x1="31.25" y1="591.20" x2="123.10" y2="591.20" stroke="#111" stroke-width="1.4"/>
<line x1="31.25" y1="606.30" x2="123.10" y2="606.30" stroke="#111" stroke-width="1.4"/>
<line x1="31.25" y1="621.20" x2="123.10" y2="621.20" stroke="#111" stroke-width="1.4"/>
<text x="46.88" y="570.60" font-size="8.2" text-anchor="middle" textLength="13.80" lengthAdjust="spacingAndGlyphs" stroke="#231f20" stroke-width="0.1">4/11</text>
<text x="77.45" y="570.60" font-size="8.2" text-anchor="middle" textLength="16.20" lengthAdjust="spacingAndGlyphs" stroke="#231f20" stroke-width="0.1">0/10</text>
<text x="108.05" y="570.60" font-size="8.2" text-anchor="middle" textLength="19.60" lengthAdjust="spacingAndGlyphs" stroke="#231f20" stroke-width="0.1">0.090</text>
<text x="46.88" y="585.60" font-size="8.2" text-anchor="middle" textLength="12.00" lengthAdjust="spacingAndGlyphs" stroke="#231f20" stroke-width="0.1">7/9</text>
<text x="77.45" y="585.60" font-size="8.2" text-anchor="middle" textLength="12.00" lengthAdjust="spacingAndGlyphs" stroke="#231f20" stroke-width="0.1">0/9</text>
<text x="108.05" y="585.60" font-size="8.2" text-anchor="middle" textLength="19.60" lengthAdjust="spacingAndGlyphs" stroke="#231f20" stroke-width="0.1">0.002</text>
<text x="46.88" y="600.60" font-size="8.2" text-anchor="middle" textLength="16.20" lengthAdjust="spacingAndGlyphs" stroke="#231f20" stroke-width="0.1">6/10</text>
<text x="77.45" y="600.60" font-size="8.2" text-anchor="middle" textLength="13.80" lengthAdjust="spacingAndGlyphs" stroke="#231f20" stroke-width="0.1">n.d.</text>
<text x="108.05" y="600.60" font-size="8.2" text-anchor="middle" textLength="13.80" lengthAdjust="spacingAndGlyphs" stroke="#231f20" stroke-width="0.1">n.d.</text>
<text x="46.88" y="615.60" font-size="8.2" text-anchor="middle" textLength="15.00" lengthAdjust="spacingAndGlyphs" stroke="#231f20" stroke-width="0.1">4/12</text>
<text x="77.45" y="615.60" font-size="8.2" text-anchor="middle" textLength="13.80" lengthAdjust="spacingAndGlyphs" stroke="#231f20" stroke-width="0.1">n.d.</text>
<text x="108.05" y="615.60" font-size="8.2" text-anchor="middle" textLength="13.80" lengthAdjust="spacingAndGlyphs" stroke="#231f20" stroke-width="0.1">n.d.</text>
<text x="28.50" y="570.60" font-size="8.2" text-anchor="end" stroke="#231f20" stroke-width="0.1">2 w</text>
<text x="28.50" y="585.60" font-size="8.2" text-anchor="end" stroke="#231f20" stroke-width="0.1">4 w</text>
<text x="28.50" y="600.60" font-size="8.2" text-anchor="end" stroke="#231f20" stroke-width="0.1">8 w</text>
<text x="28.50" y="615.60" font-size="8.2" text-anchor="end" stroke="#231f20" stroke-width="0.1">16 w</text>
<text x="46.10" y="541.85" font-size="8.1" text-anchor="middle" transform="rotate(-45 46.10 541.85)" stroke="#231f20" stroke-width="0.1">CD71<tspan font-size="5" dy="-3">−</tspan></text>
<text x="57.35" y="545.30" font-size="8.1" text-anchor="middle" textLength="36.30" lengthAdjust="spacingAndGlyphs" transform="rotate(-45 57.35 545.30)" stroke="#231f20" stroke-width="0.1">HSC/MPP</text>
<text x="79.00" y="541.85" font-size="8.1" text-anchor="middle" transform="rotate(-45 79.00 541.85)" stroke="#231f20" stroke-width="0.1">CD71<tspan font-size="5" dy="-3">+</tspan></text>
<text x="90.25" y="545.30" font-size="8.1" text-anchor="middle" textLength="36.30" lengthAdjust="spacingAndGlyphs" transform="rotate(-45 90.25 545.30)" stroke="#231f20" stroke-width="0.1">HSC/MPP</text>
<text x="116.90" y="547.30" font-size="7.9" text-anchor="middle" textLength="26.00" lengthAdjust="spacingAndGlyphs" transform="rotate(-45 116.90 547.30)" stroke="#231f20" stroke-width="0.1">p-value</text>
<text x="178.20" y="503.60" font-size="11.3" font-weight="bold" fill="#000" stroke="#000" stroke-width="0.45" textLength="2.20" lengthAdjust="spacingAndGlyphs">I</text>
<rect x="224.70" y="506.80" width="103.80" height="92.80" fill="none" stroke="#231f20" stroke-width="1.3"/>
<line x1="221.20" y1="510.90" x2="224.70" y2="510.90" stroke="#231f20" stroke-width="0.9"/>
<text x="218.30" y="513.60" font-size="8.1" text-anchor="end" textLength="11.30" lengthAdjust="spacingAndGlyphs" stroke="#231f20" stroke-width="0.1">0.0</text>
<line x1="221.20" y1="534.50" x2="224.70" y2="534.50" stroke="#231f20" stroke-width="0.9"/>
<text x="218.30" y="537.20" font-size="8.1" text-anchor="end" textLength="14.80" lengthAdjust="spacingAndGlyphs" stroke="#231f20" stroke-width="0.1">−0.5</text>
<line x1="221.20" y1="558.00" x2="224.70" y2="558.00" stroke="#231f20" stroke-width="0.9"/>
<text x="218.30" y="560.70" font-size="8.1" text-anchor="end" textLength="14.80" lengthAdjust="spacingAndGlyphs" stroke="#231f20" stroke-width="0.1">−1.0</text>
<line x1="221.20" y1="581.70" x2="224.70" y2="581.70" stroke="#231f20" stroke-width="0.9"/>
<text x="218.30" y="584.40" font-size="8.1" text-anchor="end" textLength="14.80" lengthAdjust="spacingAndGlyphs" stroke="#231f20" stroke-width="0.1">−1.5</text>
<line x1="228.50" y1="599.60" x2="228.50" y2="602.60" stroke="#231f20" stroke-width="0.9"/>
<line x1="250.60" y1="599.60" x2="250.60" y2="602.60" stroke="#231f20" stroke-width="0.9"/>
<line x1="272.70" y1="599.60" x2="272.70" y2="602.60" stroke="#231f20" stroke-width="0.9"/>
<line x1="294.80" y1="599.60" x2="294.80" y2="602.60" stroke="#231f20" stroke-width="0.9"/>
<line x1="316.90" y1="599.60" x2="316.90" y2="602.60" stroke="#231f20" stroke-width="0.9"/>
<text x="228.50" y="611.90" font-size="8.1" text-anchor="middle" stroke="#231f20" stroke-width="0.1">0</text>
<text x="272.60" y="611.90" font-size="8.1" text-anchor="middle" textLength="20.50" lengthAdjust="spacingAndGlyphs" stroke="#231f20" stroke-width="0.1">10000</text>
<text x="316.90" y="611.90" font-size="8.1" text-anchor="middle" textLength="20.50" lengthAdjust="spacingAndGlyphs" stroke="#231f20" stroke-width="0.1">20000</text>
<text x="239.60" y="624.60" font-size="9" textLength="75.00" lengthAdjust="spacingAndGlyphs" stroke="#231f20" stroke-width="0.1">Dose [number of cells]</text>
<text x="184.40" y="572.90" font-size="9" textLength="38.40" lengthAdjust="spacingAndGlyphs" transform="rotate(-90 184.40 572.90)" stroke="#231f20" stroke-width="0.1">log fraction</text>
<text x="195.00" y="579.30" font-size="9" textLength="51.30" lengthAdjust="spacingAndGlyphs" transform="rotate(-90 195.00 579.30)" stroke="#231f20" stroke-width="0.1">nonresponding</text>
<clipPath id="ci"><rect x="225.3" y="507.4" width="102.6" height="91.7"/></clipPath><g clip-path="url(#ci)">
<line x1="227.90" y1="510.60" x2="291.00" y2="599.40" stroke="#111" stroke-width="1.4" stroke-dasharray="1.8 1.5"/>
<line x1="227.90" y1="510.60" x2="255.30" y2="599.40" stroke="#111" stroke-width="1.4"/>
<line x1="227.90" y1="510.60" x2="239.70" y2="599.40" stroke="#111" stroke-width="1.8" stroke-dasharray="2.6 1.8"/>
<line x1="227.90" y1="510.60" x2="251.20" y2="599.40" stroke="#1f5f9e" stroke-width="1.4" stroke-dasharray="1.3 1.0"/>
<line x1="227.90" y1="510.60" x2="236.20" y2="599.40" stroke="#1f5f9e" stroke-width="1.5"/>
<line x1="227.90" y1="510.60" x2="231.00" y2="599.40" stroke="#1f5f9e" stroke-width="1.8" stroke-dasharray="2.6 1.8"/>
</g>
<polygon points="249.60,541.10 252.80,541.10 251.20,543.50" fill="#111"/>
<polygon points="322.70,543.80 325.90,543.80 324.30,546.20" fill="#111"/>
<text x="292.50" y="514.70" font-size="8.6" text-anchor="end" textLength="36.00" lengthAdjust="spacingAndGlyphs" stroke="#231f20" stroke-width="0.1">HSC/MPP:</text>
<text x="294.00" y="522.50" font-size="8.6" text-anchor="end" textLength="24.00" lengthAdjust="spacingAndGlyphs" stroke="#231f20" stroke-width="0.1">1/3335</text>
<text x="293.70" y="536.70" font-size="8.6" text-anchor="end" fill="#1f5f9e" textLength="23.00" lengthAdjust="spacingAndGlyphs" stroke="#1f5f9e" stroke-width="0.1">CD71<tspan font-size="5.5" dy="-3.2">−</tspan></text>
<text x="292.50" y="545.00" font-size="8.6" text-anchor="end" fill="#1f5f9e" textLength="36.00" lengthAdjust="spacingAndGlyphs" stroke="#1f5f9e" stroke-width="0.1">HSC/MPP:</text>
<text x="292.50" y="552.50" font-size="8.6" text-anchor="end" fill="#1f5f9e" textLength="22.80" lengthAdjust="spacingAndGlyphs" stroke="#1f5f9e" stroke-width="0.1">1/1012</text>
<polyline points="296.20,516.20 300.80,516.20 300.80,544.30 296.20,544.30" fill="none" stroke="#231f20" stroke-width="1.0"/>
<text x="301.90" y="532.30" font-size="8.4" textLength="25.40" lengthAdjust="spacingAndGlyphs" stroke="#231f20" stroke-width="0.1">p=0.08</text>
<rect x="214.30" y="652.80" width="119.80" height="26.40" fill="none" stroke="#231f20" stroke-width="1.2"/>
<text x="228.50" y="638.00" font-size="8.3" text-anchor="middle" textLength="13.50" lengthAdjust="spacingAndGlyphs" stroke="#231f20" stroke-width="0.1">Cell</text>
<text x="228.50" y="646.60" font-size="8.3" text-anchor="middle" textLength="17.50" lengthAdjust="spacingAndGlyphs" stroke="#231f20" stroke-width="0.1">dose</text>
<text x="267.40" y="638.20" font-size="8.3" text-anchor="middle" textLength="36.50" lengthAdjust="spacingAndGlyphs" stroke="#231f20" stroke-width="0.1">Engrafted/</text>
<text x="267.40" y="646.80" font-size="8.3" text-anchor="middle" textLength="27.00" lengthAdjust="spacingAndGlyphs" stroke="#231f20" stroke-width="0.1">injected</text>
<text x="312.20" y="638.20" font-size="8.3" text-anchor="middle" textLength="49.00" lengthAdjust="spacingAndGlyphs" stroke="#231f20" stroke-width="0.1">Repopulating/</text>
<text x="312.20" y="646.80" font-size="8.3" text-anchor="middle" textLength="28.50" lengthAdjust="spacingAndGlyphs" stroke="#231f20" stroke-width="0.1">cells [%]</text>
<text x="230.00" y="660.10" font-size="7.9" text-anchor="middle" textLength="12.90" lengthAdjust="spacingAndGlyphs" stroke="#231f20" stroke-width="0.1">100</text>
<text x="266.50" y="660.10" font-size="7.9" text-anchor="middle" textLength="12.60" lengthAdjust="spacingAndGlyphs" stroke="#231f20" stroke-width="0.1">0/3</text>
<text x="307.60" y="660.10" font-size="7.9" text-anchor="middle" stroke="#231f20" stroke-width="0.1">0.099%</text>
<text x="230.00" y="667.60" font-size="7.9" text-anchor="middle" textLength="17.20" lengthAdjust="spacingAndGlyphs" stroke="#231f20" stroke-width="0.1">1300</text>
<text x="266.50" y="667.60" font-size="7.9" text-anchor="middle" textLength="12.60" lengthAdjust="spacingAndGlyphs" stroke="#231f20" stroke-width="0.1">3/4</text>
<text x="307.60" y="667.60" font-size="7.9" text-anchor="middle" stroke="#231f20" stroke-width="0.1">(0.034–</text>
<text x="230.00" y="675.10" font-size="7.9" text-anchor="middle" textLength="17.20" lengthAdjust="spacingAndGlyphs" stroke="#231f20" stroke-width="0.1">5000</text>
<text x="266.50" y="675.10" font-size="7.9" text-anchor="middle" textLength="12.60" lengthAdjust="spacingAndGlyphs" stroke="#231f20" stroke-width="0.1">3/3</text>
<text x="307.60" y="675.90" font-size="7.9" text-anchor="middle" stroke="#231f20" stroke-width="0.1">0.069%)</text>
<text x="193.80" y="663.50" font-size="8.1" text-anchor="middle" stroke="#231f20" stroke-width="0.1">CD71<tspan font-size="5" dy="-3">−</tspan></text>
<text x="193.80" y="671.80" font-size="8.1" text-anchor="middle" textLength="33.50" lengthAdjust="spacingAndGlyphs" stroke="#231f20" stroke-width="0.1">HSC/MPP</text>
<text x="390.10" y="503.60" font-size="11.3" font-weight="bold" fill="#000" stroke="#000" stroke-width="0.45" textLength="5.50" lengthAdjust="spacingAndGlyphs">J</text>
<line x1="421.50" y1="525.80" x2="421.50" y2="639.10" stroke="#231f20" stroke-width="1.35"/>
<line x1="421.00" y1="638.60" x2="490.50" y2="638.60" stroke="#231f20" stroke-width="1.35"/>
<line x1="418.50" y1="638.60" x2="421.50" y2="638.60" stroke="#231f20" stroke-width="0.9"/>
<line x1="419.50" y1="633.16" x2="421.50" y2="633.16" stroke="#231f20" stroke-width="0.9"/>
<line x1="419.50" y1="627.72" x2="421.50" y2="627.72" stroke="#231f20" stroke-width="0.9"/>
<line x1="419.50" y1="622.28" x2="421.50" y2="622.28" stroke="#231f20" stroke-width="0.9"/>
<line x1="418.50" y1="616.84" x2="421.50" y2="616.84" stroke="#231f20" stroke-width="0.9"/>
<line x1="419.50" y1="611.40" x2="421.50" y2="611.40" stroke="#231f20" stroke-width="0.9"/>
<line x1="419.50" y1="605.96" x2="421.50" y2="605.96" stroke="#231f20" stroke-width="0.9"/>
<line x1="419.50" y1="600.52" x2="421.50" y2="600.52" stroke="#231f20" stroke-width="0.9"/>
<line x1="418.50" y1="595.08" x2="421.50" y2="595.08" stroke="#231f20" stroke-width="0.9"/>
<line x1="419.50" y1="589.64" x2="421.50" y2="589.64" stroke="#231f20" stroke-width="0.9"/>
<line x1="419.50" y1="584.20" x2="421.50" y2="584.20" stroke="#231f20" stroke-width="0.9"/>
<line x1="419.50" y1="578.76" x2="421.50" y2="578.76" stroke="#231f20" stroke-width="0.9"/>
<line x1="418.50" y1="573.32" x2="421.50" y2="573.32" stroke="#231f20" stroke-width="0.9"/>
<line x1="419.50" y1="567.88" x2="421.50" y2="567.88" stroke="#231f20" stroke-width="0.9"/>
<line x1="419.50" y1="562.44" x2="421.50" y2="562.44" stroke="#231f20" stroke-width="0.9"/>
<line x1="419.50" y1="557.00" x2="421.50" y2="557.00" stroke="#231f20" stroke-width="0.9"/>
<line x1="418.50" y1="551.56" x2="421.50" y2="551.56" stroke="#231f20" stroke-width="0.9"/>
<line x1="419.50" y1="546.12" x2="421.50" y2="546.12" stroke="#231f20" stroke-width="0.9"/>
<line x1="419.50" y1="540.68" x2="421.50" y2="540.68" stroke="#231f20" stroke-width="0.9"/>
<line x1="419.50" y1="535.24" x2="421.50" y2="535.24" stroke="#231f20" stroke-width="0.9"/>
<line x1="418.50" y1="529.80" x2="421.50" y2="529.80" stroke="#231f20" stroke-width="0.9"/>
<text x="415.20" y="532.50" font-size="8.1" text-anchor="end" textLength="11.70" lengthAdjust="spacingAndGlyphs" stroke="#231f20" stroke-width="0.1">100</text>
<text x="415.20" y="554.26" font-size="8.1" text-anchor="end" textLength="7.80" lengthAdjust="spacingAndGlyphs" stroke="#231f20" stroke-width="0.1">80</text>
<text x="415.20" y="576.02" font-size="8.1" text-anchor="end" textLength="7.80" lengthAdjust="spacingAndGlyphs" stroke="#231f20" stroke-width="0.1">60</text>
<text x="415.20" y="597.78" font-size="8.1" text-anchor="end" textLength="7.80" lengthAdjust="spacingAndGlyphs" stroke="#231f20" stroke-width="0.1">40</text>
<text x="415.20" y="619.54" font-size="8.1" text-anchor="end" textLength="7.80" lengthAdjust="spacingAndGlyphs" stroke="#231f20" stroke-width="0.1">20</text>
<text x="415.20" y="641.30" font-size="8.1" text-anchor="end" textLength="3.90" lengthAdjust="spacingAndGlyphs" stroke="#231f20" stroke-width="0.1">0</text>
<line x1="434.00" y1="638.60" x2="434.00" y2="641.50" stroke="#231f20" stroke-width="1"/>
<text x="434.00" y="650.60" font-size="8" text-anchor="middle" textLength="11.50" lengthAdjust="spacingAndGlyphs" stroke="#231f20" stroke-width="0.1">BM</text>
<line x1="456.30" y1="638.60" x2="456.30" y2="641.50" stroke="#231f20" stroke-width="1"/>
<text x="456.30" y="650.60" font-size="8" text-anchor="middle" textLength="12.50" lengthAdjust="spacingAndGlyphs" stroke="#231f20" stroke-width="0.1">SPL</text>
<line x1="479.30" y1="638.60" x2="479.30" y2="641.50" stroke="#231f20" stroke-width="1"/>
<text x="479.30" y="650.60" font-size="8" text-anchor="middle" textLength="9.50" lengthAdjust="spacingAndGlyphs" stroke="#231f20" stroke-width="0.1">PB</text>
<text x="397.60" y="642.70" font-size="9" textLength="117.70" lengthAdjust="spacingAndGlyphs" transform="rotate(-90 397.60 642.70)" stroke="#231f20" stroke-width="0.1">CD71<tspan font-size="5" dy="-3">+</tspan><tspan dy="3"> HSC/MPPs [% of HSC/MPPs]</tspan></text>
<polyline points="432.30,533.00 432.30,529.20 482.30,529.20 482.30,533.00" fill="none" stroke="#231f20" stroke-width="0.9"/>
<text x="456.70" y="525.00" font-size="8.1" text-anchor="middle" textLength="31.10" lengthAdjust="spacingAndGlyphs" stroke="#231f20" stroke-width="0.1">p&lt;0.0001</text>
<polyline points="432.30,551.20 432.30,547.00 454.60,547.00 454.60,551.20" fill="none" stroke="#231f20" stroke-width="0.9"/>
<text x="443.40" y="543.90" font-size="8.1" text-anchor="middle" textLength="19.30" lengthAdjust="spacingAndGlyphs" stroke="#231f20" stroke-width="0.1">p=0.9</text>
<polyline points="459.20,551.20 459.20,547.00 482.30,547.00 482.30,551.20" fill="none" stroke="#231f20" stroke-width="0.9"/>
<text x="470.30" y="543.90" font-size="8.1" text-anchor="middle" textLength="26.90" lengthAdjust="spacingAndGlyphs" stroke="#231f20" stroke-width="0.1">p&lt;0.001</text>
<circle cx="497.00" cy="627.20" r="1.6" fill="#000"/>
<rect x="495.50" y="634.70" width="3.0" height="3.0" fill="#000"/>
<text x="501.30" y="629.80" font-size="8.1" textLength="11.50" lengthAdjust="spacingAndGlyphs" stroke="#231f20" stroke-width="0.1">OD</text>
<text x="501.30" y="638.90" font-size="8.1" textLength="9.30" lengthAdjust="spacingAndGlyphs" stroke="#231f20" stroke-width="0.1">LD</text>
<line x1="434.00" y1="622.80" x2="434.00" y2="636.20" stroke="#1f5a96" stroke-width="1.1"/>
<line x1="431.50" y1="622.80" x2="436.50" y2="622.80" stroke="#1f5a96" stroke-width="1"/>
<line x1="426.20" y1="636.20" x2="442.30" y2="636.20" stroke="#1f5a96" stroke-width="1.2"/>
<rect x="432.75" y="621.55" width="2.5" height="2.5" fill="#1f5a96"/>
<rect x="430.55" y="627.75" width="2.5" height="2.5" fill="#1f5a96"/>
<rect x="435.05" y="627.75" width="2.5" height="2.5" fill="#1f5a96"/>
<rect x="426.75" y="634.55" width="2.5" height="2.5" fill="#1f5a96"/>
<rect x="438.25" y="635.25" width="2.5" height="2.5" fill="#1f5a96"/>
<rect x="430.75" y="635.55" width="2.5" height="2.5" fill="#1f5a96"/>
<rect x="435.25" y="634.75" width="2.5" height="2.5" fill="#1f5a96"/>
<circle cx="441.80" cy="636.00" r="1.3" fill="#1f5a96"/>
<line x1="449.20" y1="636.40" x2="464.60" y2="636.40" stroke="#3cb94a" stroke-width="1.2"/>
<rect x="450.40" y="635.20" width="2.2" height="2.2" fill="#3cb94a"/>
<rect x="453.40" y="635.50" width="2.2" height="2.2" fill="#3cb94a"/>
<rect x="456.40" y="634.70" width="2.2" height="2.2" fill="#3cb94a"/>
<rect x="459.40" y="634.20" width="2.2" height="2.2" fill="#3cb94a"/>
<rect x="455.40" y="636.20" width="2.2" height="2.2" fill="#3cb94a"/>
<rect x="478.07" y="560.05" width="2.6" height="2.6" fill="#c8102e"/>
<rect x="479.04" y="567.67" width="2.6" height="2.6" fill="#c8102e"/>
<rect x="482.32" y="570.93" width="2.6" height="2.6" fill="#c8102e"/>
<rect x="478.19" y="572.02" width="2.6" height="2.6" fill="#c8102e"/>
<rect x="478.57" y="573.11" width="2.6" height="2.6" fill="#c8102e"/>
<rect x="479.29" y="574.20" width="2.6" height="2.6" fill="#c8102e"/>
<rect x="475.66" y="575.28" width="2.6" height="2.6" fill="#c8102e"/>
<rect x="478.66" y="576.37" width="2.6" height="2.6" fill="#c8102e"/>
<rect x="480.27" y="577.46" width="2.6" height="2.6" fill="#c8102e"/>
<rect x="482.48" y="578.55" width="2.6" height="2.6" fill="#c8102e"/>
<rect x="472.98" y="579.64" width="2.6" height="2.6" fill="#c8102e"/>
<rect x="475.83" y="580.72" width="2.6" height="2.6" fill="#c8102e"/>
<rect x="472.93" y="581.81" width="2.6" height="2.6" fill="#c8102e"/>
<rect x="482.71" y="582.90" width="2.6" height="2.6" fill="#c8102e"/>
<rect x="481.13" y="583.99" width="2.6" height="2.6" fill="#c8102e"/>
<rect x="472.27" y="585.08" width="2.6" height="2.6" fill="#c8102e"/>
<rect x="485.06" y="586.16" width="2.6" height="2.6" fill="#c8102e"/>
<rect x="484.82" y="587.25" width="2.6" height="2.6" fill="#c8102e"/>
<rect x="480.59" y="588.34" width="2.6" height="2.6" fill="#c8102e"/>
<rect x="480.07" y="589.43" width="2.6" height="2.6" fill="#c8102e"/>
<rect x="473.84" y="590.52" width="2.6" height="2.6" fill="#c8102e"/>
<rect x="471.90" y="591.60" width="2.6" height="2.6" fill="#c8102e"/>
<rect x="478.89" y="592.69" width="2.6" height="2.6" fill="#c8102e"/>
<rect x="472.51" y="593.24" width="2.6" height="2.6" fill="#c8102e"/>
<rect x="474.29" y="593.78" width="2.6" height="2.6" fill="#c8102e"/>
<rect x="474.99" y="594.32" width="2.6" height="2.6" fill="#c8102e"/>
<rect x="472.11" y="594.87" width="2.6" height="2.6" fill="#c8102e"/>
<rect x="478.01" y="595.41" width="2.6" height="2.6" fill="#c8102e"/>
<rect x="477.69" y="595.96" width="2.6" height="2.6" fill="#c8102e"/>
<rect x="483.16" y="596.50" width="2.6" height="2.6" fill="#c8102e"/>
<rect x="478.76" y="597.04" width="2.6" height="2.6" fill="#c8102e"/>
<rect x="480.41" y="597.59" width="2.6" height="2.6" fill="#c8102e"/>
<rect x="478.50" y="598.13" width="2.6" height="2.6" fill="#c8102e"/>
<rect x="480.71" y="598.68" width="2.6" height="2.6" fill="#c8102e"/>
<rect x="477.92" y="599.22" width="2.6" height="2.6" fill="#c8102e"/>
<rect x="475.48" y="599.76" width="2.6" height="2.6" fill="#c8102e"/>
<rect x="485.27" y="600.31" width="2.6" height="2.6" fill="#c8102e"/>
<rect x="485.24" y="600.85" width="2.6" height="2.6" fill="#c8102e"/>
<rect x="483.13" y="601.40" width="2.6" height="2.6" fill="#c8102e"/>
<rect x="481.33" y="601.94" width="2.6" height="2.6" fill="#c8102e"/>
<rect x="475.99" y="602.48" width="2.6" height="2.6" fill="#c8102e"/>
<rect x="474.82" y="603.03" width="2.6" height="2.6" fill="#c8102e"/>
<rect x="475.63" y="603.57" width="2.6" height="2.6" fill="#c8102e"/>
<rect x="472.66" y="604.12" width="2.6" height="2.6" fill="#c8102e"/>
<rect x="482.12" y="604.66" width="2.6" height="2.6" fill="#c8102e"/>
<rect x="477.15" y="605.20" width="2.6" height="2.6" fill="#c8102e"/>
<rect x="483.21" y="605.75" width="2.6" height="2.6" fill="#c8102e"/>
<rect x="476.96" y="606.29" width="2.6" height="2.6" fill="#c8102e"/>
<rect x="484.73" y="606.84" width="2.6" height="2.6" fill="#c8102e"/>
<rect x="483.22" y="607.38" width="2.6" height="2.6" fill="#c8102e"/>
<rect x="471.71" y="607.92" width="2.6" height="2.6" fill="#c8102e"/>
<rect x="474.55" y="608.47" width="2.6" height="2.6" fill="#c8102e"/>
<rect x="484.08" y="609.01" width="2.6" height="2.6" fill="#c8102e"/>
<rect x="478.09" y="609.56" width="2.6" height="2.6" fill="#c8102e"/>
<rect x="485.03" y="610.10" width="2.6" height="2.6" fill="#c8102e"/>
<rect x="477.10" y="610.64" width="2.6" height="2.6" fill="#c8102e"/>
<rect x="472.69" y="611.19" width="2.6" height="2.6" fill="#c8102e"/>
<rect x="480.26" y="612.28" width="2.6" height="2.6" fill="#c8102e"/>
<rect x="482.29" y="612.82" width="2.6" height="2.6" fill="#c8102e"/>
<rect x="475.37" y="613.36" width="2.6" height="2.6" fill="#c8102e"/>
<rect x="472.89" y="614.45" width="2.6" height="2.6" fill="#c8102e"/>
<rect x="476.22" y="615.54" width="2.6" height="2.6" fill="#c8102e"/>
<rect x="484.81" y="616.63" width="2.6" height="2.6" fill="#c8102e"/>
<rect x="482.01" y="617.17" width="2.6" height="2.6" fill="#c8102e"/>
<rect x="473.30" y="617.72" width="2.6" height="2.6" fill="#c8102e"/>
<rect x="475.05" y="618.80" width="2.6" height="2.6" fill="#c8102e"/>
<rect x="473.07" y="619.89" width="2.6" height="2.6" fill="#c8102e"/>
<rect x="472.51" y="620.98" width="2.6" height="2.6" fill="#c8102e"/>
<rect x="482.54" y="622.07" width="2.6" height="2.6" fill="#c8102e"/>
<rect x="474.12" y="623.16" width="2.6" height="2.6" fill="#c8102e"/>
<rect x="479.31" y="624.24" width="2.6" height="2.6" fill="#c8102e"/>
<rect x="477.78" y="625.33" width="2.6" height="2.6" fill="#c8102e"/>
<rect x="474.29" y="626.42" width="2.6" height="2.6" fill="#c8102e"/>
<rect x="481.65" y="627.51" width="2.6" height="2.6" fill="#c8102e"/>
<rect x="473.48" y="628.60" width="2.6" height="2.6" fill="#c8102e"/>
<rect x="480.45" y="629.68" width="2.6" height="2.6" fill="#c8102e"/>
<rect x="473.28" y="630.77" width="2.6" height="2.6" fill="#c8102e"/>
<rect x="477.42" y="631.86" width="2.6" height="2.6" fill="#c8102e"/>
<rect x="475.34" y="632.95" width="2.6" height="2.6" fill="#c8102e"/>
<rect x="475.97" y="634.04" width="2.6" height="2.6" fill="#c8102e"/>
<rect x="483.68" y="635.12" width="2.6" height="2.6" fill="#c8102e"/>
<rect x="481.84" y="635.67" width="2.6" height="2.6" fill="#c8102e"/>
<rect x="476.35" y="636.21" width="2.6" height="2.6" fill="#c8102e"/>
<rect x="482.73" y="636.76" width="2.6" height="2.6" fill="#c8102e"/>
<rect x="474.57" y="588.34" width="2.6" height="2.6" fill="#c8102e"/>
<rect x="477.06" y="591.60" width="2.6" height="2.6" fill="#c8102e"/>
<rect x="483.32" y="595.96" width="2.6" height="2.6" fill="#c8102e"/>
<rect x="480.43" y="598.13" width="2.6" height="2.6" fill="#c8102e"/>
<rect x="473.06" y="600.31" width="2.6" height="2.6" fill="#c8102e"/>
<rect x="485.15" y="603.57" width="2.6" height="2.6" fill="#c8102e"/>
<rect x="474.60" y="605.75" width="2.6" height="2.6" fill="#c8102e"/>
<rect x="475.21" y="607.92" width="2.6" height="2.6" fill="#c8102e"/>
<rect x="482.21" y="611.19" width="2.6" height="2.6" fill="#c8102e"/>
<rect x="476.17" y="593.78" width="2.6" height="2.6" fill="#c8102e"/>
<rect x="475.73" y="599.22" width="2.6" height="2.6" fill="#c8102e"/>
<rect x="472.70" y="601.40" width="2.6" height="2.6" fill="#c8102e"/>
<rect x="472.93" y="604.66" width="2.6" height="2.6" fill="#c8102e"/>
<rect x="479.63" y="609.01" width="2.6" height="2.6" fill="#c8102e"/>
<rect x="475.00" y="614.45" width="2.6" height="2.6" fill="#c8102e"/>
<rect x="479.88" y="597.04" width="2.6" height="2.6" fill="#c8102e"/>
<rect x="476.76" y="602.48" width="2.6" height="2.6" fill="#c8102e"/>
<rect x="477.86" y="606.84" width="2.6" height="2.6" fill="#c8102e"/>
<rect x="484.74" y="619.89" width="2.6" height="2.6" fill="#c8102e"/>
<rect x="478.28" y="624.24" width="2.6" height="2.6" fill="#c8102e"/>
<rect x="479.51" y="628.60" width="2.6" height="2.6" fill="#c8102e"/>
<rect x="482.53" y="632.95" width="2.6" height="2.6" fill="#c8102e"/>
<rect x="475.01" y="635.12" width="2.6" height="2.6" fill="#c8102e"/>
<rect x="473.80" y="616.63" width="2.6" height="2.6" fill="#c8102e"/>
<rect x="484.05" y="622.07" width="2.6" height="2.6" fill="#c8102e"/>
<rect x="482.82" y="626.42" width="2.6" height="2.6" fill="#c8102e"/>
<line x1="479.30" y1="561.35" x2="479.30" y2="638.60" stroke="#c8102e" stroke-width="1"/>
<line x1="471.50" y1="601.80" x2="487.70" y2="601.80" stroke="#c8102e" stroke-width="1.2"/>
<line x1="475.50" y1="594.00" x2="483.10" y2="594.00" stroke="#c8102e" stroke-width="1.0"/></svg>
</body></html>
